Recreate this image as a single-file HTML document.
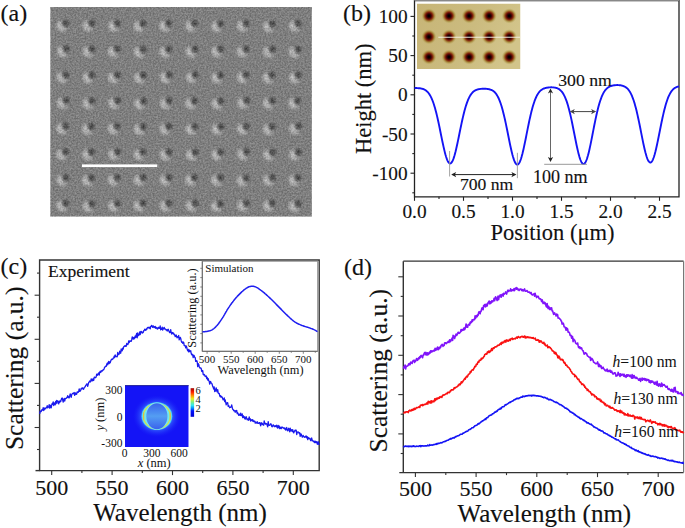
<!DOCTYPE html>
<html><head><meta charset="utf-8"><title>Figure</title>
<style>
html,body{margin:0;padding:0;background:#fff;}
body{width:685px;height:528px;overflow:hidden;}
svg{display:block;}
text{font-family:"Liberation Serif",serif;fill:#111;}
.s{stroke:#111;stroke-width:0.14px;}
</style></head><body>
<svg width="685" height="528" viewBox="0 0 685 528">
<defs>
<filter id="noise" x="0" y="0" width="1" height="1" filterUnits="objectBoundingBox" color-interpolation-filters="sRGB">
  <feTurbulence type="fractalNoise" baseFrequency="0.6" numOctaves="2" seed="5" result="t"/>
  <feColorMatrix type="matrix" in="t" values="1 0 0 0 0  1 0 0 0 0  1 0 0 0 0  0 0 0 0 1" result="g"/>
  <feComponentTransfer in="g" result="tt"><feFuncR type="linear" slope="1.8" intercept="-0.4"/><feFuncG type="linear" slope="1.8" intercept="-0.4"/><feFuncB type="linear" slope="1.8" intercept="-0.4"/></feComponentTransfer>
  <feGaussianBlur stdDeviation="0.6" in="tt"/>
</filter>
<filter id="blur06" x="-0.1" y="-0.1" width="1.2" height="1.2"><feGaussianBlur stdDeviation="0.6"/></filter>
<radialGradient id="hdark">
  <stop offset="0" stop-color="#2a2a2a" stop-opacity="0.8"/>
  <stop offset="0.45" stop-color="#333333" stop-opacity="0.58"/>
  <stop offset="1" stop-color="#404040" stop-opacity="0"/>
</radialGradient>
<radialGradient id="hlight">
  <stop offset="0" stop-color="#ffffff" stop-opacity="0.58"/>
  <stop offset="0.5" stop-color="#ffffff" stop-opacity="0.32"/>
  <stop offset="1" stop-color="#ffffff" stop-opacity="0"/>
</radialGradient>
<linearGradient id="afmbg" x1="0" y1="0" x2="1" y2="0.3">
  <stop offset="0" stop-color="#c7b577"/>
  <stop offset="0.6" stop-color="#cbbb7f"/>
  <stop offset="1" stop-color="#d2c48a"/>
</linearGradient>
<radialGradient id="afm">
  <stop offset="0" stop-color="#000000"/>
  <stop offset="0.12" stop-color="#080000"/>
  <stop offset="0.3" stop-color="#400404"/>
  <stop offset="0.45" stop-color="#7a1a0a"/>
  <stop offset="0.58" stop-color="#94541e"/>
  <stop offset="0.72" stop-color="#a8883e" stop-opacity="0.85"/>
  <stop offset="0.88" stop-color="#bcaa62" stop-opacity="0.45"/>
  <stop offset="1" stop-color="#c8ba7c" stop-opacity="0"/>
</radialGradient>
<linearGradient id="jet" x1="0" y1="1" x2="0" y2="0">
  <stop offset="0" stop-color="#0000d0"/>
  <stop offset="0.2" stop-color="#0010ff"/>
  <stop offset="0.3" stop-color="#0090ff"/>
  <stop offset="0.4" stop-color="#30e8f0"/>
  <stop offset="0.52" stop-color="#80f080"/>
  <stop offset="0.63" stop-color="#e8f020"/>
  <stop offset="0.74" stop-color="#ff9000"/>
  <stop offset="0.86" stop-color="#ff2000"/>
  <stop offset="1" stop-color="#a00000"/>
</linearGradient>
<radialGradient id="halo">
  <stop offset="0.55" stop-color="#4a78ff" stop-opacity="1"/>
  <stop offset="0.8" stop-color="#3a50ff" stop-opacity="0.5"/>
  <stop offset="1" stop-color="#2a2aff" stop-opacity="0"/>
</radialGradient>
<radialGradient id="halo2">
  <stop offset="0.55" stop-color="#4080ff" stop-opacity="1"/>
  <stop offset="0.72" stop-color="#2c50fc" stop-opacity="0.7"/>
  <stop offset="1" stop-color="#1a22f8" stop-opacity="0"/>
</radialGradient>
<linearGradient id="inner2" x1="0" y1="0" x2="0" y2="1">
  <stop offset="0" stop-color="#3a62ec"/>
  <stop offset="0.25" stop-color="#4680f0"/>
  <stop offset="0.5" stop-color="#549ef2"/>
  <stop offset="0.75" stop-color="#4680f0"/>
  <stop offset="1" stop-color="#3a62ec"/>
</linearGradient>
<radialGradient id="inner" cx="0.5" cy="0.5" r="0.5">
  <stop offset="0" stop-color="#3c6cf0"/>
  <stop offset="0.85" stop-color="#4a8af5"/>
  <stop offset="1" stop-color="#80e8ff"/>
</radialGradient>

<clipPath id="semclip"><rect x="50.2" y="7.0" width="261.7" height="209.7"/></clipPath>
<clipPath id="cmclip"><rect x="125" y="385.3" width="63.7" height="61.7"/></clipPath>
<clipPath id="afmclip"><rect x="417" y="3.5" width="103.5" height="65.5"/></clipPath>
</defs>
<text x="0.5" y="20.5" class="s" font-size="24">(a)</text>
<g clip-path="url(#semclip)">
<rect x="50.2" y="7.0" width="261.7" height="209.7" fill="#7f7f7f"/>
<g filter="url(#blur06)">
<ellipse cx="59.9" cy="25.7" rx="5" ry="6.8" fill="url(#hlight)"/>
<ellipse cx="63.4" cy="29.6" rx="5" ry="4" fill="url(#hlight)" opacity="0.6"/>
<circle cx="65.9" cy="23.1" r="5" fill="url(#hdark)"/>
<ellipse cx="85.9" cy="25.7" rx="5" ry="6.8" fill="url(#hlight)"/>
<ellipse cx="89.4" cy="29.6" rx="5" ry="4" fill="url(#hlight)" opacity="0.6"/>
<circle cx="91.9" cy="23.1" r="5" fill="url(#hdark)"/>
<ellipse cx="111.6" cy="25.9" rx="5" ry="6.8" fill="url(#hlight)"/>
<ellipse cx="115.1" cy="29.8" rx="5" ry="4" fill="url(#hlight)" opacity="0.6"/>
<circle cx="117.6" cy="23.3" r="5" fill="url(#hdark)"/>
<ellipse cx="137.0" cy="26.0" rx="5" ry="6.8" fill="url(#hlight)"/>
<ellipse cx="140.5" cy="29.9" rx="5" ry="4" fill="url(#hlight)" opacity="0.6"/>
<circle cx="143.0" cy="23.4" r="5" fill="url(#hdark)"/>
<ellipse cx="162.8" cy="25.9" rx="5" ry="6.8" fill="url(#hlight)"/>
<ellipse cx="166.3" cy="29.8" rx="5" ry="4" fill="url(#hlight)" opacity="0.6"/>
<circle cx="168.8" cy="23.3" r="5" fill="url(#hdark)"/>
<ellipse cx="188.7" cy="25.7" rx="5" ry="6.8" fill="url(#hlight)"/>
<ellipse cx="192.2" cy="29.6" rx="5" ry="4" fill="url(#hlight)" opacity="0.6"/>
<circle cx="194.7" cy="23.1" r="5" fill="url(#hdark)"/>
<ellipse cx="214.7" cy="26.3" rx="5" ry="6.8" fill="url(#hlight)"/>
<ellipse cx="218.2" cy="30.2" rx="5" ry="4" fill="url(#hlight)" opacity="0.6"/>
<circle cx="220.7" cy="23.7" r="5" fill="url(#hdark)"/>
<ellipse cx="240.3" cy="25.8" rx="5" ry="6.8" fill="url(#hlight)"/>
<ellipse cx="243.8" cy="29.7" rx="5" ry="4" fill="url(#hlight)" opacity="0.6"/>
<circle cx="246.3" cy="23.2" r="5" fill="url(#hdark)"/>
<ellipse cx="266.5" cy="26.4" rx="5" ry="6.8" fill="url(#hlight)"/>
<ellipse cx="270.0" cy="30.3" rx="5" ry="4" fill="url(#hlight)" opacity="0.6"/>
<circle cx="272.5" cy="23.8" r="5" fill="url(#hdark)"/>
<ellipse cx="292.3" cy="25.9" rx="5" ry="6.8" fill="url(#hlight)"/>
<ellipse cx="295.8" cy="29.8" rx="5" ry="4" fill="url(#hlight)" opacity="0.6"/>
<circle cx="298.3" cy="23.3" r="5" fill="url(#hdark)"/>
<ellipse cx="60.4" cy="51.3" rx="5" ry="6.8" fill="url(#hlight)"/>
<ellipse cx="63.9" cy="55.2" rx="5" ry="4" fill="url(#hlight)" opacity="0.6"/>
<circle cx="66.4" cy="48.7" r="5" fill="url(#hdark)"/>
<ellipse cx="86.1" cy="51.5" rx="5" ry="6.8" fill="url(#hlight)"/>
<ellipse cx="89.6" cy="55.4" rx="5" ry="4" fill="url(#hlight)" opacity="0.6"/>
<circle cx="92.1" cy="48.9" r="5" fill="url(#hdark)"/>
<ellipse cx="111.3" cy="51.4" rx="5" ry="6.8" fill="url(#hlight)"/>
<ellipse cx="114.8" cy="55.3" rx="5" ry="4" fill="url(#hlight)" opacity="0.6"/>
<circle cx="117.3" cy="48.8" r="5" fill="url(#hdark)"/>
<ellipse cx="137.2" cy="52.0" rx="5" ry="6.8" fill="url(#hlight)"/>
<ellipse cx="140.7" cy="55.9" rx="5" ry="4" fill="url(#hlight)" opacity="0.6"/>
<circle cx="143.2" cy="49.4" r="5" fill="url(#hdark)"/>
<ellipse cx="162.9" cy="51.8" rx="5" ry="6.8" fill="url(#hlight)"/>
<ellipse cx="166.4" cy="55.7" rx="5" ry="4" fill="url(#hlight)" opacity="0.6"/>
<circle cx="168.9" cy="49.2" r="5" fill="url(#hdark)"/>
<ellipse cx="189.1" cy="51.6" rx="5" ry="6.8" fill="url(#hlight)"/>
<ellipse cx="192.6" cy="55.5" rx="5" ry="4" fill="url(#hlight)" opacity="0.6"/>
<circle cx="195.1" cy="49.0" r="5" fill="url(#hdark)"/>
<ellipse cx="214.8" cy="51.4" rx="5" ry="6.8" fill="url(#hlight)"/>
<ellipse cx="218.3" cy="55.3" rx="5" ry="4" fill="url(#hlight)" opacity="0.6"/>
<circle cx="220.8" cy="48.8" r="5" fill="url(#hdark)"/>
<ellipse cx="240.2" cy="51.5" rx="5" ry="6.8" fill="url(#hlight)"/>
<ellipse cx="243.7" cy="55.4" rx="5" ry="4" fill="url(#hlight)" opacity="0.6"/>
<circle cx="246.2" cy="48.9" r="5" fill="url(#hdark)"/>
<ellipse cx="266.5" cy="51.6" rx="5" ry="6.8" fill="url(#hlight)"/>
<ellipse cx="270.0" cy="55.5" rx="5" ry="4" fill="url(#hlight)" opacity="0.6"/>
<circle cx="272.5" cy="49.0" r="5" fill="url(#hdark)"/>
<ellipse cx="292.1" cy="51.8" rx="5" ry="6.8" fill="url(#hlight)"/>
<ellipse cx="295.6" cy="55.7" rx="5" ry="4" fill="url(#hlight)" opacity="0.6"/>
<circle cx="298.1" cy="49.2" r="5" fill="url(#hdark)"/>
<ellipse cx="60.0" cy="77.2" rx="5" ry="6.8" fill="url(#hlight)"/>
<ellipse cx="63.5" cy="81.1" rx="5" ry="4" fill="url(#hlight)" opacity="0.6"/>
<circle cx="66.0" cy="74.6" r="5" fill="url(#hdark)"/>
<ellipse cx="86.0" cy="77.6" rx="5" ry="6.8" fill="url(#hlight)"/>
<ellipse cx="89.5" cy="81.5" rx="5" ry="4" fill="url(#hlight)" opacity="0.6"/>
<circle cx="92.0" cy="75.0" r="5" fill="url(#hdark)"/>
<ellipse cx="111.4" cy="77.5" rx="5" ry="6.8" fill="url(#hlight)"/>
<ellipse cx="114.9" cy="81.4" rx="5" ry="4" fill="url(#hlight)" opacity="0.6"/>
<circle cx="117.4" cy="74.9" r="5" fill="url(#hdark)"/>
<ellipse cx="137.4" cy="77.7" rx="5" ry="6.8" fill="url(#hlight)"/>
<ellipse cx="140.9" cy="81.6" rx="5" ry="4" fill="url(#hlight)" opacity="0.6"/>
<circle cx="143.4" cy="75.1" r="5" fill="url(#hdark)"/>
<ellipse cx="163.4" cy="77.2" rx="5" ry="6.8" fill="url(#hlight)"/>
<ellipse cx="166.9" cy="81.1" rx="5" ry="4" fill="url(#hlight)" opacity="0.6"/>
<circle cx="169.4" cy="74.6" r="5" fill="url(#hdark)"/>
<ellipse cx="189.4" cy="77.1" rx="5" ry="6.8" fill="url(#hlight)"/>
<ellipse cx="192.9" cy="81.0" rx="5" ry="4" fill="url(#hlight)" opacity="0.6"/>
<circle cx="195.4" cy="74.5" r="5" fill="url(#hdark)"/>
<ellipse cx="214.7" cy="77.6" rx="5" ry="6.8" fill="url(#hlight)"/>
<ellipse cx="218.2" cy="81.5" rx="5" ry="4" fill="url(#hlight)" opacity="0.6"/>
<circle cx="220.7" cy="75.0" r="5" fill="url(#hdark)"/>
<ellipse cx="240.3" cy="77.4" rx="5" ry="6.8" fill="url(#hlight)"/>
<ellipse cx="243.8" cy="81.3" rx="5" ry="4" fill="url(#hlight)" opacity="0.6"/>
<circle cx="246.3" cy="74.8" r="5" fill="url(#hdark)"/>
<ellipse cx="266.0" cy="77.5" rx="5" ry="6.8" fill="url(#hlight)"/>
<ellipse cx="269.5" cy="81.4" rx="5" ry="4" fill="url(#hlight)" opacity="0.6"/>
<circle cx="272.0" cy="74.9" r="5" fill="url(#hdark)"/>
<ellipse cx="292.4" cy="77.5" rx="5" ry="6.8" fill="url(#hlight)"/>
<ellipse cx="295.9" cy="81.4" rx="5" ry="4" fill="url(#hlight)" opacity="0.6"/>
<circle cx="298.4" cy="74.9" r="5" fill="url(#hdark)"/>
<ellipse cx="60.3" cy="103.0" rx="5" ry="6.8" fill="url(#hlight)"/>
<ellipse cx="63.8" cy="106.9" rx="5" ry="4" fill="url(#hlight)" opacity="0.6"/>
<circle cx="66.3" cy="100.4" r="5" fill="url(#hdark)"/>
<ellipse cx="86.0" cy="103.2" rx="5" ry="6.8" fill="url(#hlight)"/>
<ellipse cx="89.5" cy="107.1" rx="5" ry="4" fill="url(#hlight)" opacity="0.6"/>
<circle cx="92.0" cy="100.6" r="5" fill="url(#hdark)"/>
<ellipse cx="111.7" cy="103.1" rx="5" ry="6.8" fill="url(#hlight)"/>
<ellipse cx="115.2" cy="107.0" rx="5" ry="4" fill="url(#hlight)" opacity="0.6"/>
<circle cx="117.7" cy="100.5" r="5" fill="url(#hdark)"/>
<ellipse cx="137.7" cy="103.5" rx="5" ry="6.8" fill="url(#hlight)"/>
<ellipse cx="141.2" cy="107.4" rx="5" ry="4" fill="url(#hlight)" opacity="0.6"/>
<circle cx="143.7" cy="100.9" r="5" fill="url(#hdark)"/>
<ellipse cx="163.2" cy="103.2" rx="5" ry="6.8" fill="url(#hlight)"/>
<ellipse cx="166.7" cy="107.1" rx="5" ry="4" fill="url(#hlight)" opacity="0.6"/>
<circle cx="169.2" cy="100.6" r="5" fill="url(#hdark)"/>
<ellipse cx="188.6" cy="103.3" rx="5" ry="6.8" fill="url(#hlight)"/>
<ellipse cx="192.1" cy="107.2" rx="5" ry="4" fill="url(#hlight)" opacity="0.6"/>
<circle cx="194.6" cy="100.7" r="5" fill="url(#hdark)"/>
<ellipse cx="214.9" cy="103.5" rx="5" ry="6.8" fill="url(#hlight)"/>
<ellipse cx="218.4" cy="107.4" rx="5" ry="4" fill="url(#hlight)" opacity="0.6"/>
<circle cx="220.9" cy="100.9" r="5" fill="url(#hdark)"/>
<ellipse cx="240.9" cy="102.9" rx="5" ry="6.8" fill="url(#hlight)"/>
<ellipse cx="244.4" cy="106.8" rx="5" ry="4" fill="url(#hlight)" opacity="0.6"/>
<circle cx="246.9" cy="100.3" r="5" fill="url(#hdark)"/>
<ellipse cx="266.3" cy="103.2" rx="5" ry="6.8" fill="url(#hlight)"/>
<ellipse cx="269.8" cy="107.1" rx="5" ry="4" fill="url(#hlight)" opacity="0.6"/>
<circle cx="272.3" cy="100.6" r="5" fill="url(#hdark)"/>
<ellipse cx="291.8" cy="103.1" rx="5" ry="6.8" fill="url(#hlight)"/>
<ellipse cx="295.3" cy="107.0" rx="5" ry="4" fill="url(#hlight)" opacity="0.6"/>
<circle cx="297.8" cy="100.5" r="5" fill="url(#hdark)"/>
<ellipse cx="59.7" cy="128.5" rx="5" ry="6.8" fill="url(#hlight)"/>
<ellipse cx="63.2" cy="132.4" rx="5" ry="4" fill="url(#hlight)" opacity="0.6"/>
<circle cx="65.7" cy="125.9" r="5" fill="url(#hdark)"/>
<ellipse cx="85.4" cy="129.0" rx="5" ry="6.8" fill="url(#hlight)"/>
<ellipse cx="88.9" cy="132.9" rx="5" ry="4" fill="url(#hlight)" opacity="0.6"/>
<circle cx="91.4" cy="126.4" r="5" fill="url(#hdark)"/>
<ellipse cx="111.3" cy="128.6" rx="5" ry="6.8" fill="url(#hlight)"/>
<ellipse cx="114.8" cy="132.5" rx="5" ry="4" fill="url(#hlight)" opacity="0.6"/>
<circle cx="117.3" cy="126.0" r="5" fill="url(#hdark)"/>
<ellipse cx="137.3" cy="129.1" rx="5" ry="6.8" fill="url(#hlight)"/>
<ellipse cx="140.8" cy="133.0" rx="5" ry="4" fill="url(#hlight)" opacity="0.6"/>
<circle cx="143.3" cy="126.5" r="5" fill="url(#hdark)"/>
<ellipse cx="162.9" cy="128.8" rx="5" ry="6.8" fill="url(#hlight)"/>
<ellipse cx="166.4" cy="132.7" rx="5" ry="4" fill="url(#hlight)" opacity="0.6"/>
<circle cx="168.9" cy="126.2" r="5" fill="url(#hdark)"/>
<ellipse cx="189.0" cy="129.1" rx="5" ry="6.8" fill="url(#hlight)"/>
<ellipse cx="192.5" cy="133.0" rx="5" ry="4" fill="url(#hlight)" opacity="0.6"/>
<circle cx="195.0" cy="126.5" r="5" fill="url(#hdark)"/>
<ellipse cx="215.1" cy="129.1" rx="5" ry="6.8" fill="url(#hlight)"/>
<ellipse cx="218.6" cy="133.0" rx="5" ry="4" fill="url(#hlight)" opacity="0.6"/>
<circle cx="221.1" cy="126.5" r="5" fill="url(#hdark)"/>
<ellipse cx="240.4" cy="128.7" rx="5" ry="6.8" fill="url(#hlight)"/>
<ellipse cx="243.9" cy="132.6" rx="5" ry="4" fill="url(#hlight)" opacity="0.6"/>
<circle cx="246.4" cy="126.1" r="5" fill="url(#hdark)"/>
<ellipse cx="266.3" cy="129.1" rx="5" ry="6.8" fill="url(#hlight)"/>
<ellipse cx="269.8" cy="133.0" rx="5" ry="4" fill="url(#hlight)" opacity="0.6"/>
<circle cx="272.3" cy="126.5" r="5" fill="url(#hdark)"/>
<ellipse cx="292.6" cy="128.5" rx="5" ry="6.8" fill="url(#hlight)"/>
<ellipse cx="296.1" cy="132.4" rx="5" ry="4" fill="url(#hlight)" opacity="0.6"/>
<circle cx="298.6" cy="125.9" r="5" fill="url(#hdark)"/>
<ellipse cx="59.7" cy="154.3" rx="5" ry="6.8" fill="url(#hlight)"/>
<ellipse cx="63.2" cy="158.2" rx="5" ry="4" fill="url(#hlight)" opacity="0.6"/>
<circle cx="65.7" cy="151.7" r="5" fill="url(#hdark)"/>
<ellipse cx="85.6" cy="154.5" rx="5" ry="6.8" fill="url(#hlight)"/>
<ellipse cx="89.1" cy="158.4" rx="5" ry="4" fill="url(#hlight)" opacity="0.6"/>
<circle cx="91.6" cy="151.9" r="5" fill="url(#hdark)"/>
<ellipse cx="111.7" cy="154.3" rx="5" ry="6.8" fill="url(#hlight)"/>
<ellipse cx="115.2" cy="158.2" rx="5" ry="4" fill="url(#hlight)" opacity="0.6"/>
<circle cx="117.7" cy="151.7" r="5" fill="url(#hdark)"/>
<ellipse cx="137.0" cy="154.4" rx="5" ry="6.8" fill="url(#hlight)"/>
<ellipse cx="140.5" cy="158.3" rx="5" ry="4" fill="url(#hlight)" opacity="0.6"/>
<circle cx="143.0" cy="151.8" r="5" fill="url(#hdark)"/>
<ellipse cx="163.1" cy="154.6" rx="5" ry="6.8" fill="url(#hlight)"/>
<ellipse cx="166.6" cy="158.5" rx="5" ry="4" fill="url(#hlight)" opacity="0.6"/>
<circle cx="169.1" cy="152.0" r="5" fill="url(#hdark)"/>
<ellipse cx="189.4" cy="154.7" rx="5" ry="6.8" fill="url(#hlight)"/>
<ellipse cx="192.9" cy="158.6" rx="5" ry="4" fill="url(#hlight)" opacity="0.6"/>
<circle cx="195.4" cy="152.1" r="5" fill="url(#hdark)"/>
<ellipse cx="214.8" cy="154.6" rx="5" ry="6.8" fill="url(#hlight)"/>
<ellipse cx="218.3" cy="158.5" rx="5" ry="4" fill="url(#hlight)" opacity="0.6"/>
<circle cx="220.8" cy="152.0" r="5" fill="url(#hdark)"/>
<ellipse cx="240.7" cy="154.1" rx="5" ry="6.8" fill="url(#hlight)"/>
<ellipse cx="244.2" cy="158.0" rx="5" ry="4" fill="url(#hlight)" opacity="0.6"/>
<circle cx="246.7" cy="151.5" r="5" fill="url(#hdark)"/>
<ellipse cx="266.7" cy="154.7" rx="5" ry="6.8" fill="url(#hlight)"/>
<ellipse cx="270.2" cy="158.6" rx="5" ry="4" fill="url(#hlight)" opacity="0.6"/>
<circle cx="272.7" cy="152.1" r="5" fill="url(#hdark)"/>
<ellipse cx="292.5" cy="154.7" rx="5" ry="6.8" fill="url(#hlight)"/>
<ellipse cx="296.0" cy="158.6" rx="5" ry="4" fill="url(#hlight)" opacity="0.6"/>
<circle cx="298.5" cy="152.1" r="5" fill="url(#hdark)"/>
<ellipse cx="59.9" cy="180.1" rx="5" ry="6.8" fill="url(#hlight)"/>
<ellipse cx="63.4" cy="184.0" rx="5" ry="4" fill="url(#hlight)" opacity="0.6"/>
<circle cx="65.9" cy="177.5" r="5" fill="url(#hdark)"/>
<ellipse cx="85.5" cy="180.3" rx="5" ry="6.8" fill="url(#hlight)"/>
<ellipse cx="89.0" cy="184.2" rx="5" ry="4" fill="url(#hlight)" opacity="0.6"/>
<circle cx="91.5" cy="177.7" r="5" fill="url(#hdark)"/>
<ellipse cx="111.2" cy="179.9" rx="5" ry="6.8" fill="url(#hlight)"/>
<ellipse cx="114.7" cy="183.8" rx="5" ry="4" fill="url(#hlight)" opacity="0.6"/>
<circle cx="117.2" cy="177.3" r="5" fill="url(#hdark)"/>
<ellipse cx="137.2" cy="179.9" rx="5" ry="6.8" fill="url(#hlight)"/>
<ellipse cx="140.7" cy="183.8" rx="5" ry="4" fill="url(#hlight)" opacity="0.6"/>
<circle cx="143.2" cy="177.3" r="5" fill="url(#hdark)"/>
<ellipse cx="163.1" cy="179.8" rx="5" ry="6.8" fill="url(#hlight)"/>
<ellipse cx="166.6" cy="183.7" rx="5" ry="4" fill="url(#hlight)" opacity="0.6"/>
<circle cx="169.1" cy="177.2" r="5" fill="url(#hdark)"/>
<ellipse cx="188.6" cy="179.9" rx="5" ry="6.8" fill="url(#hlight)"/>
<ellipse cx="192.1" cy="183.8" rx="5" ry="4" fill="url(#hlight)" opacity="0.6"/>
<circle cx="194.6" cy="177.3" r="5" fill="url(#hdark)"/>
<ellipse cx="214.5" cy="180.1" rx="5" ry="6.8" fill="url(#hlight)"/>
<ellipse cx="218.0" cy="184.0" rx="5" ry="4" fill="url(#hlight)" opacity="0.6"/>
<circle cx="220.5" cy="177.5" r="5" fill="url(#hdark)"/>
<ellipse cx="240.2" cy="180.5" rx="5" ry="6.8" fill="url(#hlight)"/>
<ellipse cx="243.7" cy="184.4" rx="5" ry="4" fill="url(#hlight)" opacity="0.6"/>
<circle cx="246.2" cy="177.9" r="5" fill="url(#hdark)"/>
<ellipse cx="266.5" cy="179.9" rx="5" ry="6.8" fill="url(#hlight)"/>
<ellipse cx="270.0" cy="183.8" rx="5" ry="4" fill="url(#hlight)" opacity="0.6"/>
<circle cx="272.5" cy="177.3" r="5" fill="url(#hdark)"/>
<ellipse cx="292.0" cy="180.1" rx="5" ry="6.8" fill="url(#hlight)"/>
<ellipse cx="295.5" cy="184.0" rx="5" ry="4" fill="url(#hlight)" opacity="0.6"/>
<circle cx="298.0" cy="177.5" r="5" fill="url(#hdark)"/>
<ellipse cx="59.9" cy="205.6" rx="5" ry="6.8" fill="url(#hlight)"/>
<ellipse cx="63.4" cy="209.5" rx="5" ry="4" fill="url(#hlight)" opacity="0.6"/>
<circle cx="65.9" cy="203.0" r="5" fill="url(#hdark)"/>
<ellipse cx="86.1" cy="206.3" rx="5" ry="6.8" fill="url(#hlight)"/>
<ellipse cx="89.6" cy="210.2" rx="5" ry="4" fill="url(#hlight)" opacity="0.6"/>
<circle cx="92.1" cy="203.7" r="5" fill="url(#hdark)"/>
<ellipse cx="111.6" cy="205.9" rx="5" ry="6.8" fill="url(#hlight)"/>
<ellipse cx="115.1" cy="209.8" rx="5" ry="4" fill="url(#hlight)" opacity="0.6"/>
<circle cx="117.6" cy="203.3" r="5" fill="url(#hdark)"/>
<ellipse cx="137.1" cy="205.6" rx="5" ry="6.8" fill="url(#hlight)"/>
<ellipse cx="140.6" cy="209.5" rx="5" ry="4" fill="url(#hlight)" opacity="0.6"/>
<circle cx="143.1" cy="203.0" r="5" fill="url(#hdark)"/>
<ellipse cx="163.1" cy="205.7" rx="5" ry="6.8" fill="url(#hlight)"/>
<ellipse cx="166.6" cy="209.6" rx="5" ry="4" fill="url(#hlight)" opacity="0.6"/>
<circle cx="169.1" cy="203.1" r="5" fill="url(#hdark)"/>
<ellipse cx="189.3" cy="205.6" rx="5" ry="6.8" fill="url(#hlight)"/>
<ellipse cx="192.8" cy="209.5" rx="5" ry="4" fill="url(#hlight)" opacity="0.6"/>
<circle cx="195.3" cy="203.0" r="5" fill="url(#hdark)"/>
<ellipse cx="214.4" cy="206.3" rx="5" ry="6.8" fill="url(#hlight)"/>
<ellipse cx="217.9" cy="210.2" rx="5" ry="4" fill="url(#hlight)" opacity="0.6"/>
<circle cx="220.4" cy="203.7" r="5" fill="url(#hdark)"/>
<ellipse cx="240.6" cy="205.6" rx="5" ry="6.8" fill="url(#hlight)"/>
<ellipse cx="244.1" cy="209.5" rx="5" ry="4" fill="url(#hlight)" opacity="0.6"/>
<circle cx="246.6" cy="203.0" r="5" fill="url(#hdark)"/>
<ellipse cx="266.4" cy="205.5" rx="5" ry="6.8" fill="url(#hlight)"/>
<ellipse cx="269.9" cy="209.4" rx="5" ry="4" fill="url(#hlight)" opacity="0.6"/>
<circle cx="272.4" cy="202.9" r="5" fill="url(#hdark)"/>
<ellipse cx="292.2" cy="206.3" rx="5" ry="6.8" fill="url(#hlight)"/>
<ellipse cx="295.7" cy="210.2" rx="5" ry="4" fill="url(#hlight)" opacity="0.6"/>
<circle cx="298.2" cy="203.7" r="5" fill="url(#hdark)"/>
</g>
<rect x="50.2" y="7.0" width="261.7" height="209.7" filter="url(#noise)" opacity="0.16"/>
</g>
<rect x="82" y="164.4" width="75.2" height="2.7" fill="#ffffff"/>
<text x="343" y="20.8" class="s" font-size="24">(b)</text>
<g clip-path="url(#afmclip)">
<rect x="417" y="3.5" width="103.5" height="65.5" fill="url(#afmbg)"/>
<circle cx="428.9" cy="15.9" r="7.8" fill="url(#afm)"/>
<circle cx="449.0" cy="15.9" r="7.8" fill="url(#afm)"/>
<circle cx="469.1" cy="15.9" r="7.8" fill="url(#afm)"/>
<circle cx="489.2" cy="15.9" r="7.8" fill="url(#afm)"/>
<circle cx="509.3" cy="15.9" r="7.8" fill="url(#afm)"/>
<circle cx="428.9" cy="36.8" r="7.8" fill="url(#afm)"/>
<circle cx="449.0" cy="36.8" r="7.8" fill="url(#afm)"/>
<circle cx="469.1" cy="36.8" r="7.8" fill="url(#afm)"/>
<circle cx="489.2" cy="36.8" r="7.8" fill="url(#afm)"/>
<circle cx="509.3" cy="36.8" r="7.8" fill="url(#afm)"/>
<circle cx="428.9" cy="57.0" r="7.8" fill="url(#afm)"/>
<circle cx="449.0" cy="57.0" r="7.8" fill="url(#afm)"/>
<circle cx="469.1" cy="57.0" r="7.8" fill="url(#afm)"/>
<circle cx="489.2" cy="57.0" r="7.8" fill="url(#afm)"/>
<circle cx="509.3" cy="57.0" r="7.8" fill="url(#afm)"/>
</g>
<rect x="438.3" y="36.7" width="82" height="1.1" fill="#f4f0e0" opacity="0.9"/>
<path d="M414.5,0.5 H679 V196.8 H414.5 Z" fill="none" stroke="#222" stroke-width="1.3"/>
<line x1="414.5" y1="0.5" x2="679" y2="0.5" stroke="#888" stroke-width="1.2"/>
<line x1="412.3" y1="192.80" x2="414.5" y2="192.80" stroke="#222" stroke-width="1.1"/>
<line x1="410.5" y1="173.20" x2="414.5" y2="173.20" stroke="#222" stroke-width="1.1"/>
<line x1="412.3" y1="153.60" x2="414.5" y2="153.60" stroke="#222" stroke-width="1.1"/>
<line x1="410.5" y1="134.00" x2="414.5" y2="134.00" stroke="#222" stroke-width="1.1"/>
<line x1="412.3" y1="114.40" x2="414.5" y2="114.40" stroke="#222" stroke-width="1.1"/>
<line x1="410.5" y1="94.80" x2="414.5" y2="94.80" stroke="#222" stroke-width="1.1"/>
<line x1="412.3" y1="75.20" x2="414.5" y2="75.20" stroke="#222" stroke-width="1.1"/>
<line x1="410.5" y1="55.60" x2="414.5" y2="55.60" stroke="#222" stroke-width="1.1"/>
<line x1="412.3" y1="36.00" x2="414.5" y2="36.00" stroke="#222" stroke-width="1.1"/>
<line x1="410.5" y1="16.40" x2="414.5" y2="16.40" stroke="#222" stroke-width="1.1"/>
<text x="407.6" y="22.9" class="s" font-size="19.3" text-anchor="end">100</text>
<text x="407.6" y="62.1" class="s" font-size="19.3" text-anchor="end">50</text>
<text x="407.6" y="101.3" class="s" font-size="19.3" text-anchor="end">0</text>
<text x="407.6" y="140.5" class="s" font-size="19.3" text-anchor="end">-50</text>
<text x="407.6" y="179.7" class="s" font-size="19.3" text-anchor="end">-100</text>
<line x1="414.50" y1="196.8" x2="414.50" y2="200.8" stroke="#222" stroke-width="1.1"/>
<line x1="439.00" y1="196.8" x2="439.00" y2="199.0" stroke="#222" stroke-width="1.1"/>
<line x1="463.50" y1="196.8" x2="463.50" y2="200.8" stroke="#222" stroke-width="1.1"/>
<line x1="488.00" y1="196.8" x2="488.00" y2="199.0" stroke="#222" stroke-width="1.1"/>
<line x1="512.50" y1="196.8" x2="512.50" y2="200.8" stroke="#222" stroke-width="1.1"/>
<line x1="537.00" y1="196.8" x2="537.00" y2="199.0" stroke="#222" stroke-width="1.1"/>
<line x1="561.50" y1="196.8" x2="561.50" y2="200.8" stroke="#222" stroke-width="1.1"/>
<line x1="586.00" y1="196.8" x2="586.00" y2="199.0" stroke="#222" stroke-width="1.1"/>
<line x1="610.50" y1="196.8" x2="610.50" y2="200.8" stroke="#222" stroke-width="1.1"/>
<line x1="635.00" y1="196.8" x2="635.00" y2="199.0" stroke="#222" stroke-width="1.1"/>
<line x1="659.50" y1="196.8" x2="659.50" y2="200.8" stroke="#222" stroke-width="1.1"/>
<text x="414.5" y="217.8" class="s" font-size="19.3" text-anchor="middle">0.0</text>
<text x="463.5" y="217.8" class="s" font-size="19.3" text-anchor="middle">0.5</text>
<text x="512.5" y="217.8" class="s" font-size="19.3" text-anchor="middle">1.0</text>
<text x="561.5" y="217.8" class="s" font-size="19.3" text-anchor="middle">1.5</text>
<text x="610.5" y="217.8" class="s" font-size="19.3" text-anchor="middle">2.0</text>
<text x="659.5" y="217.8" class="s" font-size="19.3" text-anchor="middle">2.5</text>
<text x="552.5" y="240" class="s" font-size="22.5" text-anchor="middle">Position (μm)</text>
<text transform="translate(371,98.8) rotate(-90)" class="s" font-size="22.5" text-anchor="middle">Height (nm)</text>
<polyline points="414.5,87.9 415.0,88.0 415.5,88.0 416.0,88.0 416.5,88.0 417.0,88.1 417.5,88.1 418.0,88.1 418.5,88.2 419.0,88.2 419.5,88.3 420.0,88.3 420.5,88.4 421.0,88.5 421.5,88.6 422.0,88.7 422.5,88.9 423.0,89.0 423.5,89.2 424.0,89.4 424.5,89.7 425.0,89.9 425.5,90.2 426.0,90.6 426.5,91.0 427.0,91.4 427.5,91.9 428.0,92.4 428.5,93.0 429.0,93.7 429.5,94.4 430.0,95.2 430.5,96.1 431.0,97.1 431.5,98.1 432.0,99.3 432.5,100.5 433.0,101.8 433.5,103.2 434.0,104.7 434.5,106.4 435.0,108.1 435.5,109.9 436.0,111.8 436.5,113.8 437.0,115.9 437.5,118.0 438.0,120.2 438.5,122.5 439.0,124.9 439.5,127.3 440.0,129.7 440.5,132.2 441.0,134.7 441.5,137.1 442.0,139.6 442.5,142.0 443.0,144.3 443.5,146.6 444.0,148.8 444.5,150.9 445.0,152.9 445.5,154.8 446.0,156.5 446.5,158.0 447.0,159.4 447.5,160.6 448.0,161.6 448.5,162.4 449.0,163.0 449.5,163.3 450.0,163.5 450.5,163.4 451.0,163.1 451.5,162.6 452.0,161.9 452.5,161.0 453.0,159.9 453.5,158.6 454.0,157.1 454.5,155.5 455.0,153.7 455.5,151.8 456.0,149.7 456.5,147.5 457.0,145.3 457.5,143.0 458.0,140.6 458.5,138.2 459.0,135.7 459.5,133.3 460.0,130.8 460.5,128.4 461.0,126.0 461.5,123.6 462.0,121.3 462.5,119.0 463.0,116.9 463.5,114.8 464.0,112.8 464.5,110.8 465.0,109.0 465.5,107.3 466.0,105.6 466.5,104.1 467.0,102.6 467.5,101.3 468.0,100.0 468.5,98.9 469.0,97.8 469.5,96.8 470.0,95.9 470.5,95.1 471.0,94.4 471.5,93.7 472.0,93.1 472.5,92.5 473.0,92.0 473.5,91.6 474.0,91.2 474.5,90.8 475.0,90.5 475.5,90.3 476.0,90.0 476.5,89.8 477.0,89.6 477.5,89.5 478.0,89.4 478.5,89.2 479.0,89.1 479.5,89.1 480.0,89.0 480.5,88.9 481.0,88.9 481.5,88.9 482.0,88.8 482.5,88.8 483.0,88.8 483.5,88.8 484.0,88.8 484.5,88.8 485.0,88.8 485.5,88.8 486.0,88.8 486.5,88.9 487.0,88.9 487.5,89.0 488.0,89.0 488.5,89.1 489.0,89.2 489.5,89.3 490.0,89.5 490.5,89.6 491.0,89.8 491.5,90.0 492.0,90.2 492.5,90.5 493.0,90.8 493.5,91.2 494.0,91.6 494.5,92.0 495.0,92.5 495.5,93.1 496.0,93.7 496.5,94.4 497.0,95.2 497.5,96.1 498.0,97.0 498.5,98.0 499.0,99.1 499.5,100.3 500.0,101.6 500.5,103.0 501.0,104.5 501.5,106.0 502.0,107.7 502.5,109.5 503.0,111.4 503.5,113.4 504.0,115.4 504.5,117.6 505.0,119.8 505.5,122.1 506.0,124.4 506.5,126.9 507.0,129.3 507.5,131.8 508.0,134.3 508.5,136.8 509.0,139.3 509.5,141.7 510.0,144.2 510.5,146.5 511.0,148.8 511.5,151.0 512.0,153.0 512.5,155.0 513.0,156.8 513.5,158.4 514.0,159.9 514.5,161.2 515.0,162.3 515.5,163.2 516.0,163.8 516.5,164.3 517.0,164.6 517.5,164.6 518.0,164.4 518.5,164.0 519.0,163.3 519.5,162.5 520.0,161.4 520.5,160.1 521.0,158.7 521.5,157.1 522.0,155.3 522.5,153.4 523.0,151.3 523.5,149.2 524.0,146.9 524.5,144.5 525.0,142.1 525.5,139.7 526.0,137.2 526.5,134.6 527.0,132.1 527.5,129.6 528.0,127.1 528.5,124.7 529.0,122.3 529.5,119.9 530.0,117.7 530.5,115.5 531.0,113.4 531.5,111.3 532.0,109.4 532.5,107.6 533.0,105.8 533.5,104.2 534.0,102.7 534.5,101.2 535.0,99.9 535.5,98.6 536.0,97.5 536.5,96.4 537.0,95.4 537.5,94.6 538.0,93.7 538.5,93.0 539.0,92.3 539.5,91.7 540.0,91.2 540.5,90.7 541.0,90.2 541.5,89.9 542.0,89.5 542.5,89.2 543.0,88.9 543.5,88.7 544.0,88.5 544.5,88.3 545.0,88.1 545.5,88.0 546.0,87.9 546.5,87.8 547.0,87.7 547.5,87.6 548.0,87.5 548.5,87.5 549.0,87.4 549.5,87.4 550.0,87.4 550.5,87.4 551.0,87.3 551.5,87.3 552.0,87.4 552.5,87.4 553.0,87.4 553.5,87.4 554.0,87.5 554.5,87.6 555.0,87.6 555.5,87.7 556.0,87.9 556.5,88.0 557.0,88.2 557.5,88.4 558.0,88.6 558.5,88.8 559.0,89.1 559.5,89.5 560.0,89.9 560.5,90.3 561.0,90.8 561.5,91.3 562.0,91.9 562.5,92.6 563.0,93.3 563.5,94.2 564.0,95.1 564.5,96.1 565.0,97.1 565.5,98.3 566.0,99.6 566.5,100.9 567.0,102.4 567.5,103.9 568.0,105.6 568.5,107.4 569.0,109.2 569.5,111.2 570.0,113.2 570.5,115.4 571.0,117.6 571.5,119.9 572.0,122.3 572.5,124.7 573.0,127.2 573.5,129.7 574.0,132.2 574.5,134.8 575.0,137.3 575.5,139.8 576.0,142.3 576.5,144.7 577.0,147.0 577.5,149.3 578.0,151.4 578.5,153.4 579.0,155.3 579.5,157.1 580.0,158.6 580.5,160.0 581.0,161.2 581.5,162.2 582.0,163.0 582.5,163.5 583.0,163.9 583.5,164.0 584.0,163.9 584.5,163.5 585.0,163.0 585.5,162.2 586.0,161.2 586.5,160.0 587.0,158.6 587.5,157.0 588.0,155.3 588.5,153.4 589.0,151.4 589.5,149.2 590.0,146.9 590.5,144.6 591.0,142.1 591.5,139.6 592.0,137.1 592.5,134.5 593.0,131.9 593.5,129.4 594.0,126.8 594.5,124.3 595.0,121.9 595.5,119.4 596.0,117.1 596.5,114.8 597.0,112.6 597.5,110.5 598.0,108.5 598.5,106.6 599.0,104.8 599.5,103.1 600.0,101.5 600.5,100.0 601.0,98.6 601.5,97.2 602.0,96.0 602.5,94.9 603.0,93.9 603.5,92.9 604.0,92.0 604.5,91.3 605.0,90.5 605.5,89.9 606.0,89.3 606.5,88.8 607.0,88.3 607.5,87.9 608.0,87.5 608.5,87.2 609.0,86.9 609.5,86.6 610.0,86.4 610.5,86.2 611.0,86.0 611.5,85.8 612.0,85.7 612.5,85.6 613.0,85.5 613.5,85.4 614.0,85.3 614.5,85.2 615.0,85.2 615.5,85.1 616.0,85.1 616.5,85.1 617.0,85.0 617.5,85.0 618.0,85.1 618.5,85.1 619.0,85.1 619.5,85.2 620.0,85.2 620.5,85.3 621.0,85.4 621.5,85.5 622.0,85.6 622.5,85.8 623.0,85.9 623.5,86.1 624.0,86.3 624.5,86.5 625.0,86.8 625.5,87.1 626.0,87.4 626.5,87.8 627.0,88.2 627.5,88.7 628.0,89.2 628.5,89.8 629.0,90.5 629.5,91.2 630.0,92.0 630.5,92.9 631.0,93.9 631.5,94.9 632.0,96.0 632.5,97.3 633.0,98.6 633.5,100.0 634.0,101.5 634.5,103.1 635.0,104.9 635.5,106.7 636.0,108.6 636.5,110.6 637.0,112.7 637.5,114.9 638.0,117.2 638.5,119.5 639.0,121.9 639.5,124.3 640.0,126.8 640.5,129.3 641.0,131.9 641.5,134.4 642.0,136.9 642.5,139.4 643.0,141.9 643.5,144.2 644.0,146.5 644.5,148.7 645.0,150.8 645.5,152.8 646.0,154.6 646.5,156.3 647.0,157.7 647.5,159.1 648.0,160.2 648.5,161.1 649.0,161.7 649.5,162.2 650.0,162.5 650.5,162.5 651.0,162.3 651.5,161.9 652.0,161.2 652.5,160.4 653.0,159.3 653.5,158.0 654.0,156.6 654.5,155.0 655.0,153.2 655.5,151.3 656.0,149.2 656.5,147.0 657.0,144.8 657.5,142.4 658.0,140.0 658.5,137.5 659.0,135.0 659.5,132.5 660.0,130.0 660.5,127.5 661.0,125.0 661.5,122.5 662.0,120.2 662.5,117.8 663.0,115.6 663.5,113.4 664.0,111.3 664.5,109.3 665.0,107.4 665.5,105.5 666.0,103.8 666.5,102.2 667.0,100.7 667.5,99.3 668.0,97.9 668.5,96.7 669.0,95.6 669.5,94.6 670.0,93.6 670.5,92.7 671.0,91.9 671.5,91.2 672.0,90.6 672.5,90.0 673.0,89.4 673.5,89.0 674.0,88.6 674.5,88.2 675.0,87.8 675.5,87.6 676.0,87.3 676.5,87.1 677.0,86.9 677.5,86.7 678.0,86.6 678.5,86.5 679.0,86.3" fill="none" stroke="#1414f5" stroke-width="1.9" stroke-linejoin="round"/>
<line x1="449.6" y1="151" x2="449.6" y2="176.5" stroke="#999" stroke-width="0.9"/>
<line x1="517.4" y1="152.8" x2="517.4" y2="178.2" stroke="#999" stroke-width="0.9"/>
<line x1="452.2" y1="174.6" x2="515.4" y2="174.6" stroke="#222" stroke-width="1"/><path d="M451.2,174.6 l5,-2.6 l-1.3,2.6 l1.3,2.6 z" fill="#222"/><path d="M516.4,174.6 l-5,-2.6 l1.3,2.6 l-1.3,2.6 z" fill="#222"/>
<text x="460" y="190.4" class="s" font-size="17.6">700 nm</text>
<line x1="570.8" y1="111.6" x2="595.1" y2="111.6" stroke="#444" stroke-width="1"/><path d="M569.8,111.6 l5,-2.6 l-1.3,2.6 l1.3,2.6 z" fill="#444"/><path d="M596.1,111.6 l-5,-2.6 l1.3,2.6 l-1.3,2.6 z" fill="#444"/>
<text x="558.2" y="85.6" class="s" font-size="17.7">300 nm</text>
<line x1="550.5" y1="90" x2="550.5" y2="160" stroke="#666" stroke-width="1"/>
<path d="M550.5,88.4 l-2.6,5 l2.6,-1.3 l2.6,1.3 z" fill="#222"/>
<path d="M550.5,162 l-2.6,-5 l2.6,1.3 l2.6,-1.3 z" fill="#222"/>
<line x1="544.2" y1="164.3" x2="586.9" y2="164.3" stroke="#999" stroke-width="1"/>
<text x="533" y="183" class="s" font-size="18">100 nm</text>
<text x="0.5" y="274.1" class="s" font-size="24">(c)</text>
<path d="M39.6,260.0 H319.2 V470.6 H39.6 Z" fill="none" stroke="#333" stroke-width="1.4"/>
<line x1="35.5" y1="470.6" x2="39.6" y2="470.6" stroke="#333" stroke-width="1.4"/>
<line x1="37.0" y1="273.1" x2="39.6" y2="273.1" stroke="#333" stroke-width="1.1"/>
<line x1="34.6" y1="295.2" x2="39.6" y2="295.2" stroke="#333" stroke-width="1.1"/>
<line x1="37.0" y1="317.2" x2="39.6" y2="317.2" stroke="#333" stroke-width="1.1"/>
<line x1="34.6" y1="339.3" x2="39.6" y2="339.3" stroke="#333" stroke-width="1.1"/>
<line x1="37.0" y1="361.3" x2="39.6" y2="361.3" stroke="#333" stroke-width="1.1"/>
<line x1="34.6" y1="383.4" x2="39.6" y2="383.4" stroke="#333" stroke-width="1.1"/>
<line x1="37.0" y1="405.4" x2="39.6" y2="405.4" stroke="#333" stroke-width="1.1"/>
<line x1="34.6" y1="427.5" x2="39.6" y2="427.5" stroke="#333" stroke-width="1.1"/>
<line x1="37.0" y1="449.5" x2="39.6" y2="449.5" stroke="#333" stroke-width="1.1"/>
<line x1="51.7" y1="470.6" x2="51.7" y2="475.1" stroke="#333" stroke-width="1.1"/>
<line x1="81.9" y1="470.6" x2="81.9" y2="473.1" stroke="#333" stroke-width="1.1"/>
<line x1="112.1" y1="470.6" x2="112.1" y2="475.1" stroke="#333" stroke-width="1.1"/>
<line x1="142.3" y1="470.6" x2="142.3" y2="473.1" stroke="#333" stroke-width="1.1"/>
<line x1="172.5" y1="470.6" x2="172.5" y2="475.1" stroke="#333" stroke-width="1.1"/>
<line x1="202.7" y1="470.6" x2="202.7" y2="473.1" stroke="#333" stroke-width="1.1"/>
<line x1="232.9" y1="470.6" x2="232.9" y2="475.1" stroke="#333" stroke-width="1.1"/>
<line x1="263.1" y1="470.6" x2="263.1" y2="473.1" stroke="#333" stroke-width="1.1"/>
<line x1="293.3" y1="470.6" x2="293.3" y2="475.1" stroke="#333" stroke-width="1.1"/>
<text x="51.7" y="495" class="s" font-size="22" text-anchor="middle">500</text>
<text x="112.1" y="495" class="s" font-size="22" text-anchor="middle">550</text>
<text x="172.5" y="495" class="s" font-size="22" text-anchor="middle">600</text>
<text x="232.9" y="495" class="s" font-size="22" text-anchor="middle">650</text>
<text x="293.3" y="495" class="s" font-size="22" text-anchor="middle">700</text>
<text x="180" y="520.7" class="s" font-size="25" text-anchor="middle">Wavelength (nm)</text>
<text transform="translate(22.5,368.3) rotate(-90)" class="s" font-size="25.5" text-anchor="middle">Scattering (a.u.)</text>
<text x="48" y="277.1" class="s" font-size="17.5">Experiment</text>
<polyline points="39.7,413.9 40.2,411.1 40.7,411.4 41.2,411.5 41.7,409.8 42.2,410.3 42.7,410.0 43.2,407.7 43.7,410.5 44.2,409.7 44.7,408.0 45.2,408.3 45.7,408.8 46.2,407.6 46.7,407.4 47.2,405.7 47.7,407.8 48.2,407.0 48.7,407.0 49.2,404.7 49.7,408.1 50.2,406.1 50.7,405.3 51.2,407.8 51.7,405.2 52.2,403.3 52.7,404.3 53.2,401.9 53.7,405.5 54.2,403.5 54.7,402.9 55.2,404.8 55.7,401.4 56.2,403.6 56.7,400.4 57.2,401.8 57.7,400.9 58.2,403.7 58.7,403.8 59.2,401.2 59.7,402.3 60.2,400.8 60.7,401.5 61.2,399.7 61.7,398.3 62.2,398.0 62.7,400.2 63.2,402.1 63.7,399.6 64.2,398.4 64.7,401.0 65.2,398.8 65.7,398.4 66.2,398.3 66.7,397.7 67.2,397.2 67.7,395.6 68.2,397.6 68.7,396.7 69.2,397.9 69.7,395.8 70.2,393.8 70.7,395.6 71.2,397.4 71.7,394.7 72.2,393.9 72.7,393.3 73.2,393.2 73.7,393.8 74.2,392.5 74.7,395.3 75.2,393.0 75.7,393.1 76.2,394.4 76.7,394.2 77.2,391.9 77.7,392.2 78.2,392.4 78.7,391.0 79.2,388.9 79.7,391.3 80.2,391.2 80.7,390.3 81.2,388.4 81.7,388.8 82.2,387.9 82.7,387.9 83.2,389.3 83.7,389.1 84.2,387.7 84.7,387.1 85.2,386.8 85.7,385.5 86.2,385.0 86.7,383.9 87.2,384.1 87.7,386.4 88.2,384.3 88.7,382.5 89.2,381.9 89.7,381.0 90.2,382.0 90.7,381.5 91.2,379.0 91.7,380.7 92.2,379.1 92.7,380.9 93.2,379.0 93.7,380.3 94.2,377.4 94.7,377.1 95.2,377.3 95.7,377.7 96.2,376.7 96.7,374.1 97.2,375.3 97.7,374.6 98.2,373.6 98.7,372.9 99.2,375.2 99.7,372.2 100.2,371.2 100.7,372.4 101.2,371.3 101.7,370.6 102.2,371.1 102.7,370.3 103.2,369.6 103.7,369.8 104.2,368.5 104.7,367.0 105.2,366.8 105.7,366.1 106.2,366.4 106.7,364.5 107.2,363.1 107.7,364.8 108.2,362.6 108.7,361.4 109.2,363.6 109.7,361.8 110.2,362.7 110.7,361.0 111.2,359.8 111.7,359.1 112.2,359.5 112.7,359.2 113.2,358.1 113.7,358.2 114.2,356.2 114.7,357.5 115.2,354.9 115.7,356.2 116.2,356.7 116.7,356.6 117.2,356.8 117.7,352.5 118.2,354.7 118.7,354.6 119.2,353.9 119.7,351.1 120.2,352.2 120.7,353.3 121.2,348.9 121.7,350.6 122.2,350.8 122.7,348.2 123.2,349.1 123.7,346.7 124.2,346.4 124.7,345.8 125.2,346.4 125.7,345.6 126.2,346.2 126.7,343.5 127.2,343.9 127.7,344.6 128.2,343.6 128.7,340.9 129.2,342.7 129.7,340.9 130.2,341.4 130.7,340.9 131.2,341.4 131.7,339.7 132.2,337.0 132.7,337.2 133.2,339.2 133.7,337.7 134.2,338.9 134.7,337.5 135.2,336.0 135.7,337.7 136.2,335.2 136.7,333.4 137.2,337.8 137.7,332.9 138.2,335.5 138.7,335.5 139.2,334.3 139.7,331.9 140.2,334.7 140.7,331.5 141.2,331.3 141.7,332.1 142.2,333.1 142.7,332.2 143.2,332.5 143.7,330.7 144.2,330.6 144.7,329.2 145.2,329.7 145.7,330.4 146.2,329.0 146.7,329.5 147.2,327.9 147.7,327.5 148.2,327.9 148.7,327.3 149.2,328.0 149.7,327.3 150.2,328.9 150.7,326.5 151.2,326.4 151.7,325.4 152.2,326.6 152.7,327.4 153.2,325.8 153.7,326.6 154.2,327.6 154.7,326.8 155.2,326.4 155.7,328.3 156.2,327.4 156.7,327.9 157.2,328.9 157.7,329.0 158.2,327.4 158.7,327.3 159.2,328.4 159.7,328.0 160.2,326.0 160.7,329.8 161.2,328.4 161.7,329.3 162.2,327.2 162.7,330.2 163.2,328.1 163.7,328.8 164.2,327.4 164.7,329.0 165.2,329.0 165.7,329.2 166.2,330.1 166.7,329.8 167.2,331.1 167.7,329.6 168.2,329.3 168.7,330.6 169.2,331.6 169.7,332.6 170.2,332.4 170.7,329.7 171.2,332.5 171.7,334.1 172.2,332.8 172.7,332.5 173.2,333.8 173.7,333.2 174.2,334.9 174.7,334.6 175.2,336.6 175.7,336.0 176.2,335.0 176.7,337.0 177.2,337.8 177.7,336.6 178.2,337.2 178.7,335.5 179.2,339.8 179.7,338.6 180.2,337.4 180.7,338.3 181.2,340.7 181.7,342.4 182.2,342.0 182.7,343.3 183.2,342.0 183.7,342.4 184.2,345.6 184.7,345.7 185.2,345.7 185.7,347.8 186.2,345.9 186.7,347.1 187.2,349.4 187.7,350.9 188.2,349.4 188.7,351.9 189.2,349.9 189.7,351.6 190.2,351.7 190.7,350.7 191.2,353.5 191.7,354.9 192.2,354.3 192.7,355.1 193.2,357.5 193.7,355.2 194.2,355.7 194.7,357.4 195.2,357.6 195.7,361.4 196.2,361.1 196.7,360.6 197.2,361.8 197.7,366.7 198.2,363.6 198.7,364.4 199.2,366.5 199.7,367.8 200.2,368.2 200.7,367.9 201.2,368.5 201.7,371.4 202.2,371.5 202.7,370.5 203.2,374.5 203.7,374.9 204.2,374.5 204.7,375.2 205.2,376.5 205.7,376.1 206.2,376.0 206.7,378.6 207.2,377.3 207.7,380.0 208.2,378.6 208.7,380.7 209.2,381.3 209.7,384.1 210.2,381.5 210.7,381.7 211.2,383.2 211.7,383.3 212.2,384.5 212.7,386.3 213.2,387.4 213.7,389.1 214.2,387.0 214.7,391.5 215.2,391.4 215.7,389.5 216.2,387.8 216.7,391.0 217.2,391.8 217.7,389.7 218.2,393.1 218.7,393.5 219.2,393.4 219.7,395.7 220.2,396.8 220.7,395.7 221.2,397.1 221.7,396.7 222.2,397.2 222.7,398.8 223.2,399.9 223.7,399.2 224.2,397.9 224.7,401.7 225.2,399.8 225.7,402.4 226.2,404.9 226.7,403.4 227.2,402.6 227.7,402.9 228.2,406.4 228.7,405.6 229.2,406.8 229.7,407.7 230.2,407.1 230.7,407.3 231.2,407.0 231.7,405.0 232.2,407.3 232.7,409.3 233.2,409.6 233.7,410.7 234.2,410.4 234.7,411.1 235.2,412.2 235.7,410.6 236.2,411.6 236.7,410.4 237.2,413.7 237.7,412.9 238.2,413.8 238.7,415.3 239.2,415.1 239.7,414.1 240.2,415.3 240.7,413.1 241.2,415.6 241.7,415.6 242.2,413.9 242.7,417.6 243.2,415.6 243.7,417.5 244.2,416.6 244.7,418.5 245.2,419.2 245.7,417.1 246.2,416.6 246.7,418.5 247.2,419.9 247.7,418.8 248.2,418.8 248.7,420.3 249.2,416.8 249.7,419.4 250.2,418.8 250.7,421.0 251.2,420.0 251.7,419.7 252.2,420.8 252.7,419.7 253.2,421.5 253.7,420.9 254.2,421.4 254.7,421.1 255.2,423.1 255.7,422.1 256.2,422.9 256.7,423.0 257.2,421.7 257.7,423.4 258.2,423.2 258.7,423.3 259.2,422.6 259.7,422.7 260.2,424.2 260.7,425.9 261.2,422.6 261.7,424.2 262.2,423.3 262.7,424.7 263.2,424.4 263.7,425.2 264.2,420.9 264.7,423.5 265.2,423.1 265.7,424.2 266.2,423.6 266.7,423.8 267.2,425.4 267.7,426.9 268.2,421.6 268.7,424.6 269.2,425.4 269.7,425.1 270.2,424.8 270.7,423.8 271.2,424.3 271.7,426.3 272.2,426.8 272.7,425.8 273.2,424.8 273.7,426.0 274.2,425.7 274.7,426.7 275.2,426.3 275.7,425.6 276.2,426.6 276.7,425.2 277.2,427.6 277.7,428.1 278.2,425.5 278.7,427.5 279.2,426.0 279.7,428.5 280.2,428.4 280.7,427.2 281.2,428.7 281.7,427.2 282.2,427.1 282.7,427.3 283.2,428.0 283.7,427.9 284.2,428.6 284.7,427.9 285.2,429.6 285.7,430.0 286.2,428.4 286.7,427.5 287.2,430.1 287.7,430.8 288.2,429.4 288.7,428.3 289.2,430.2 289.7,431.8 290.2,428.1 290.7,430.9 291.2,430.2 291.7,429.7 292.2,431.5 292.7,429.6 293.2,431.6 293.7,432.9 294.2,431.8 294.7,430.8 295.2,430.0 295.7,430.8 296.2,430.3 296.7,434.5 297.2,432.6 297.7,431.9 298.2,431.9 298.7,432.4 299.2,433.5 299.7,432.7 300.2,436.3 300.7,433.8 301.2,434.0 301.7,435.5 302.2,437.1 302.7,437.2 303.2,435.4 303.7,436.5 304.2,436.6 304.7,437.3 305.2,437.2 305.7,436.1 306.2,436.0 306.7,437.9 307.2,436.6 307.7,439.7 308.2,438.5 308.7,437.5 309.2,438.5 309.7,438.6 310.2,439.3 310.7,440.7 311.2,438.3 311.7,438.0 312.2,440.8 312.7,440.5 313.2,441.2 313.7,441.8 314.2,441.3 314.7,442.7 315.2,441.1 315.7,442.5 316.2,441.8 316.7,441.7 317.2,444.0 317.7,444.3 318.2,441.7 318.7,442.9 319.2,444.9" fill="none" stroke="#1a1aee" stroke-width="1.3" stroke-linejoin="round"/>
<rect x="202.3" y="261.3" width="115.3" height="90.0" fill="#fff" stroke="#999" stroke-width="1"/>
<line x1="202.3" y1="261.3" x2="202.3" y2="351.3" stroke="#666" stroke-width="1"/>
<line x1="202.3" y1="351.3" x2="317.6" y2="351.3" stroke="#666" stroke-width="1"/>
<line x1="207.1" y1="351.3" x2="207.1" y2="353.8" stroke="#666" stroke-width="0.8"/>
<line x1="219.1" y1="351.3" x2="219.1" y2="352.8" stroke="#666" stroke-width="0.8"/>
<line x1="231.2" y1="351.3" x2="231.2" y2="353.8" stroke="#666" stroke-width="0.8"/>
<line x1="243.2" y1="351.3" x2="243.2" y2="352.8" stroke="#666" stroke-width="0.8"/>
<line x1="255.2" y1="351.3" x2="255.2" y2="353.8" stroke="#666" stroke-width="0.8"/>
<line x1="267.2" y1="351.3" x2="267.2" y2="352.8" stroke="#666" stroke-width="0.8"/>
<line x1="279.3" y1="351.3" x2="279.3" y2="353.8" stroke="#666" stroke-width="0.8"/>
<line x1="291.3" y1="351.3" x2="291.3" y2="352.8" stroke="#666" stroke-width="0.8"/>
<line x1="303.3" y1="351.3" x2="303.3" y2="353.8" stroke="#666" stroke-width="0.8"/>
<line x1="315.3" y1="351.3" x2="315.3" y2="352.8" stroke="#666" stroke-width="0.8"/>
<line x1="200.3" y1="268.3" x2="202.3" y2="268.3" stroke="#666" stroke-width="0.8"/>
<line x1="200.3" y1="277.6" x2="202.3" y2="277.6" stroke="#666" stroke-width="0.8"/>
<line x1="200.3" y1="287.0" x2="202.3" y2="287.0" stroke="#666" stroke-width="0.8"/>
<line x1="200.3" y1="296.3" x2="202.3" y2="296.3" stroke="#666" stroke-width="0.8"/>
<line x1="200.3" y1="305.6" x2="202.3" y2="305.6" stroke="#666" stroke-width="0.8"/>
<line x1="200.3" y1="314.9" x2="202.3" y2="314.9" stroke="#666" stroke-width="0.8"/>
<line x1="200.3" y1="324.3" x2="202.3" y2="324.3" stroke="#666" stroke-width="0.8"/>
<line x1="200.3" y1="333.6" x2="202.3" y2="333.6" stroke="#666" stroke-width="0.8"/>
<line x1="200.3" y1="342.9" x2="202.3" y2="342.9" stroke="#666" stroke-width="0.8"/>
<text x="207.1" y="362.8" font-size="11" text-anchor="middle" fill="#222">500</text>
<text x="231.2" y="362.8" font-size="11" text-anchor="middle" fill="#222">550</text>
<text x="255.2" y="362.8" font-size="11" text-anchor="middle" fill="#222">600</text>
<text x="279.3" y="362.8" font-size="11" text-anchor="middle" fill="#222">650</text>
<text x="303.3" y="362.8" font-size="11" text-anchor="middle" fill="#222">700</text>
<text x="260.5" y="374.4" font-size="12.4" text-anchor="middle">Wavelength (nm)</text>
<text transform="translate(196.3,308) rotate(-90)" font-size="12.4" text-anchor="middle">Scattering (a.u.)</text>
<text x="205.3" y="271.8" font-size="11">Simulation</text>
<polyline points="202.5,331.9 203.0,331.8 203.5,331.8 204.0,331.8 204.5,331.7 205.0,331.7 205.5,331.6 206.0,331.6 206.5,331.5 207.0,331.4 207.5,331.3 208.0,331.2 208.5,331.1 209.0,331.0 209.5,330.9 210.0,330.7 210.5,330.6 211.0,330.4 211.5,330.1 212.0,329.9 212.5,329.6 213.0,329.2 213.5,328.9 214.0,328.5 214.5,328.0 215.0,327.6 215.5,327.1 216.0,326.6 216.5,326.0 217.0,325.5 217.5,324.9 218.0,324.3 218.5,323.7 219.0,323.0 219.5,322.3 220.0,321.6 220.5,320.9 221.0,320.2 221.5,319.4 222.0,318.6 222.5,317.9 223.0,317.1 223.5,316.3 224.0,315.4 224.5,314.6 225.0,313.7 225.5,312.8 226.0,311.9 226.5,311.1 227.0,310.2 227.5,309.4 228.0,308.6 228.5,307.8 229.0,307.1 229.5,306.3 230.0,305.6 230.5,304.9 231.0,304.2 231.5,303.5 232.0,302.8 232.5,302.2 233.0,301.5 233.5,300.9 234.0,300.2 234.5,299.6 235.0,299.0 235.5,298.4 236.0,297.8 236.5,297.2 237.0,296.7 237.5,296.1 238.0,295.6 238.5,295.1 239.0,294.6 239.5,294.1 240.0,293.6 240.5,293.1 241.0,292.6 241.5,292.1 242.0,291.7 242.5,291.3 243.0,290.8 243.5,290.4 244.0,289.9 244.5,289.5 245.0,289.1 245.5,288.8 246.0,288.4 246.5,288.1 247.0,287.8 247.5,287.5 248.0,287.3 248.5,287.0 249.0,286.8 249.5,286.6 250.0,286.5 250.5,286.4 251.0,286.3 251.5,286.2 252.0,286.2 252.5,286.2 253.0,286.3 253.5,286.3 254.0,286.4 254.5,286.6 255.0,286.7 255.5,286.9 256.0,287.1 256.5,287.3 257.0,287.6 257.5,287.9 258.0,288.2 258.5,288.5 259.0,288.9 259.5,289.3 260.0,289.6 260.5,290.0 261.0,290.4 261.5,290.7 262.0,291.1 262.5,291.5 263.0,291.9 263.5,292.3 264.0,292.7 264.5,293.1 265.0,293.6 265.5,294.0 266.0,294.4 266.5,294.9 267.0,295.3 267.5,295.8 268.0,296.3 268.5,296.7 269.0,297.2 269.5,297.6 270.0,298.1 270.5,298.6 271.0,299.0 271.5,299.5 272.0,300.0 272.5,300.5 273.0,301.0 273.5,301.5 274.0,302.0 274.5,302.5 275.0,303.0 275.5,303.5 276.0,304.1 276.5,304.6 277.0,305.1 277.5,305.6 278.0,306.1 278.5,306.6 279.0,307.1 279.5,307.6 280.0,308.1 280.5,308.6 281.0,309.1 281.5,309.6 282.0,310.2 282.5,310.7 283.0,311.2 283.5,311.7 284.0,312.2 284.5,312.7 285.0,313.2 285.5,313.7 286.0,314.2 286.5,314.7 287.0,315.1 287.5,315.6 288.0,316.1 288.5,316.5 289.0,317.0 289.5,317.5 290.0,318.0 290.5,318.4 291.0,318.9 291.5,319.3 292.0,319.8 292.5,320.2 293.0,320.6 293.5,321.0 294.0,321.4 294.5,321.7 295.0,322.1 295.5,322.4 296.0,322.7 296.5,323.0 297.0,323.2 297.5,323.5 298.0,323.7 298.5,324.0 299.0,324.2 299.5,324.4 300.0,324.6 300.5,324.8 301.0,325.1 301.5,325.3 302.0,325.5 302.5,325.6 303.0,325.8 303.5,326.0 304.0,326.2 304.5,326.3 305.0,326.5 305.5,326.6 306.0,326.8 306.5,326.9 307.0,327.1 307.5,327.2 308.0,327.4 308.5,327.6 309.0,327.7 309.5,327.9 310.0,328.1 310.5,328.3 311.0,328.5 311.5,328.6 312.0,328.8 312.5,329.0 313.0,329.2 313.5,329.4 314.0,329.7 314.5,329.9 315.0,330.2 315.5,330.4 316.0,330.7 316.5,331.1 317.0,331.4 317.5,331.7" fill="none" stroke="#1e1ef0" stroke-width="1.5"/>
<g clip-path="url(#cmclip)">
<rect x="125" y="385.3" width="63.7" height="61.7" fill="#1414f6"/>
<ellipse cx="156.9" cy="416.2" rx="24" ry="21" fill="url(#halo2)"/>
<ellipse cx="156.9" cy="416.2" rx="15.4" ry="13.9" fill="#48c8f8"/>
<ellipse cx="156.9" cy="416.2" rx="14.6" ry="13.3" fill="#6ee8f0"/>
<ellipse cx="156.9" cy="416.2" rx="13.4" ry="12.6" fill="none" stroke="#d4e050" stroke-width="1.25"/>
<ellipse cx="143.6" cy="416.2" rx="0.6" ry="4.5" fill="#f0a020" opacity="0.5"/>
<ellipse cx="170.2" cy="416.2" rx="0.6" ry="4.5" fill="#f0a020" opacity="0.5"/>
<ellipse cx="156.9" cy="416.2" rx="11.2" ry="13.6" fill="#78e8f8"/>
<ellipse cx="156.9" cy="416.2" rx="10.6" ry="13.0" fill="url(#inner2)"/>
</g>
<line x1="125" y1="385.6" x2="188.7" y2="385.6" stroke="#0a0a80" stroke-width="0.8"/>
<rect x="190.6" y="388.2" width="3.5" height="28.6" fill="url(#jet)"/>
<text x="195.4" y="393.6" font-size="10.5">6</text>
<text x="195.4" y="402.8" font-size="10.5">4</text>
<text x="195.4" y="412.3" font-size="10.5">2</text>
<text x="122.4" y="394.2" font-size="11.5" text-anchor="end">300</text>
<text x="122.4" y="421.1" font-size="11.5" text-anchor="end">0</text>
<text x="122.4" y="447.1" font-size="11.5" text-anchor="end">-300</text>
<text x="124.5" y="456.8" font-size="11.5" text-anchor="middle">0</text>
<text x="151.9" y="456.8" font-size="11.5" text-anchor="middle">300</text>
<text x="179.2" y="456.8" font-size="11.5" text-anchor="middle">600</text>
<text x="154.2" y="466.5" font-size="12.5" text-anchor="middle"><tspan font-style="italic">x</tspan> (nm)</text>
<text transform="translate(103.6,414.1) rotate(-90)" font-size="12.5" text-anchor="middle"><tspan font-style="italic">y</tspan> (nm)</text>
<text x="344" y="274.6" class="s" font-size="24">(d)</text>
<line x1="403.3" y1="261.2" x2="683.6" y2="261.2" stroke="#333" stroke-width="1.3"/>
<line x1="403.3" y1="261.2" x2="403.3" y2="472.6" stroke="#333" stroke-width="1.4"/>
<line x1="399.3" y1="472.6" x2="683.6" y2="472.6" stroke="#333" stroke-width="1.4"/>
<line x1="683.6" y1="261.2" x2="683.6" y2="472.6" stroke="#777" stroke-width="1.2"/>
<line x1="398.3" y1="276.8" x2="403.3" y2="276.8" stroke="#333" stroke-width="1.1"/>
<line x1="400.7" y1="296.4" x2="403.3" y2="296.4" stroke="#333" stroke-width="1.1"/>
<line x1="398.3" y1="316.0" x2="403.3" y2="316.0" stroke="#333" stroke-width="1.1"/>
<line x1="400.7" y1="335.7" x2="403.3" y2="335.7" stroke="#333" stroke-width="1.1"/>
<line x1="398.3" y1="355.3" x2="403.3" y2="355.3" stroke="#333" stroke-width="1.1"/>
<line x1="400.7" y1="374.9" x2="403.3" y2="374.9" stroke="#333" stroke-width="1.1"/>
<line x1="398.3" y1="394.6" x2="403.3" y2="394.6" stroke="#333" stroke-width="1.1"/>
<line x1="400.7" y1="414.2" x2="403.3" y2="414.2" stroke="#333" stroke-width="1.1"/>
<line x1="398.3" y1="433.9" x2="403.3" y2="433.9" stroke="#333" stroke-width="1.1"/>
<line x1="400.7" y1="453.5" x2="403.3" y2="453.5" stroke="#333" stroke-width="1.1"/>
<line x1="415.4" y1="472.6" x2="415.4" y2="477.1" stroke="#333" stroke-width="1.1"/>
<line x1="445.8" y1="472.6" x2="445.8" y2="475.1" stroke="#333" stroke-width="1.1"/>
<line x1="476.1" y1="472.6" x2="476.1" y2="477.1" stroke="#333" stroke-width="1.1"/>
<line x1="506.5" y1="472.6" x2="506.5" y2="475.1" stroke="#333" stroke-width="1.1"/>
<line x1="536.8" y1="472.6" x2="536.8" y2="477.1" stroke="#333" stroke-width="1.1"/>
<line x1="567.2" y1="472.6" x2="567.2" y2="475.1" stroke="#333" stroke-width="1.1"/>
<line x1="597.5" y1="472.6" x2="597.5" y2="477.1" stroke="#333" stroke-width="1.1"/>
<line x1="627.9" y1="472.6" x2="627.9" y2="475.1" stroke="#333" stroke-width="1.1"/>
<line x1="658.2" y1="472.6" x2="658.2" y2="477.1" stroke="#333" stroke-width="1.1"/>
<text x="415.4" y="496.1" class="s" font-size="22" text-anchor="middle">500</text>
<text x="476.1" y="496.1" class="s" font-size="22" text-anchor="middle">550</text>
<text x="536.8" y="496.1" class="s" font-size="22" text-anchor="middle">600</text>
<text x="597.5" y="496.1" class="s" font-size="22" text-anchor="middle">650</text>
<text x="658.2" y="496.1" class="s" font-size="22" text-anchor="middle">700</text>
<text x="544.4" y="522" class="s" font-size="25" text-anchor="middle">Wavelength (nm)</text>
<text transform="translate(387,370.7) rotate(-90)" class="s" font-size="25.5" text-anchor="middle">Scattering (a.u.)</text>
<polyline points="403.6,368.7 404.1,366.5 404.6,366.7 405.1,365.0 405.6,369.0 406.1,366.4 406.6,366.6 407.1,366.0 407.6,366.0 408.1,365.3 408.6,363.9 409.1,364.8 409.6,363.7 410.1,364.7 410.6,362.2 411.1,362.0 411.6,363.0 412.1,363.4 412.6,361.8 413.1,360.6 413.6,360.9 414.1,360.2 414.6,362.5 415.1,361.1 415.6,361.1 416.1,359.8 416.6,358.5 417.1,360.1 417.6,360.3 418.1,358.9 418.6,357.9 419.1,358.8 419.6,356.9 420.1,357.9 420.6,356.0 421.1,355.4 421.6,356.8 422.1,356.3 422.6,357.7 423.1,355.1 423.6,355.2 424.1,353.6 424.6,352.6 425.1,352.4 425.6,354.7 426.1,352.6 426.6,354.9 427.1,355.0 427.6,352.9 428.1,354.8 428.6,353.0 429.1,353.8 429.6,352.1 430.1,353.1 430.6,350.8 431.1,352.3 431.6,350.9 432.1,351.0 432.6,351.6 433.1,350.9 433.6,350.4 434.1,351.0 434.6,350.9 435.1,348.2 435.6,350.1 436.1,350.0 436.6,348.2 437.1,349.2 437.6,347.0 438.1,349.8 438.6,347.7 439.1,347.6 439.6,348.7 440.1,346.9 440.6,347.4 441.1,345.3 441.6,345.5 442.1,344.3 442.6,345.2 443.1,346.3 443.6,345.1 444.1,345.5 444.6,343.0 445.1,342.8 445.6,342.9 446.1,343.7 446.6,343.1 447.1,342.4 447.6,342.7 448.1,341.5 448.6,341.3 449.1,342.4 449.6,339.9 450.1,340.4 450.6,341.6 451.1,339.6 451.6,339.8 452.1,338.0 452.6,340.4 453.1,335.4 453.6,336.3 454.1,336.0 454.6,338.5 455.1,336.7 455.6,335.6 456.1,334.1 456.6,335.5 457.1,334.8 457.6,333.6 458.1,332.3 458.6,332.3 459.1,333.3 459.6,333.0 460.1,332.4 460.6,331.7 461.1,329.5 461.6,331.1 462.1,329.5 462.6,330.3 463.1,330.3 463.6,328.7 464.1,327.9 464.6,329.7 465.1,328.6 465.6,327.1 466.1,324.0 466.6,326.9 467.1,327.2 467.6,327.3 468.1,324.9 468.6,324.4 469.1,324.2 469.6,325.1 470.1,322.4 470.6,323.1 471.1,321.6 471.6,322.4 472.1,319.8 472.6,321.3 473.1,319.8 473.6,319.5 474.1,319.7 474.6,319.7 475.1,315.9 475.6,318.3 476.1,317.1 476.6,315.5 477.1,316.7 477.6,314.7 478.1,315.3 478.6,312.6 479.1,311.7 479.6,313.3 480.1,313.8 480.6,311.5 481.1,311.2 481.6,309.1 482.1,307.7 482.6,308.3 483.1,309.7 483.6,305.6 484.1,306.6 484.6,304.6 485.1,306.4 485.6,306.8 486.1,304.1 486.6,304.6 487.1,306.1 487.6,304.2 488.1,302.6 488.6,302.1 489.1,301.0 489.6,303.8 490.1,301.8 490.6,303.4 491.1,302.9 491.6,300.9 492.1,300.7 492.6,301.8 493.1,300.8 493.6,300.7 494.1,298.3 494.6,300.8 495.1,298.5 495.6,296.7 496.1,298.2 496.6,299.0 497.1,300.5 497.6,297.5 498.1,296.1 498.6,299.6 499.1,297.1 499.6,296.3 500.1,295.1 500.6,294.9 501.1,297.3 501.6,295.0 502.1,294.4 502.6,294.1 503.1,296.1 503.6,293.4 504.1,294.4 504.6,293.7 505.1,293.4 505.6,291.9 506.1,293.3 506.6,294.1 507.1,292.0 507.6,290.7 508.1,290.1 508.6,291.5 509.1,290.7 509.6,290.7 510.1,290.6 510.6,288.8 511.1,291.1 511.6,290.3 512.1,289.8 512.6,290.0 513.1,290.7 513.6,289.6 514.1,288.5 514.6,290.6 515.1,288.8 515.6,288.5 516.1,287.5 516.6,289.2 517.1,288.1 517.6,288.7 518.1,289.8 518.6,289.3 519.1,290.5 519.6,289.7 520.1,289.0 520.6,289.2 521.1,289.1 521.6,290.5 522.1,289.9 522.6,289.5 523.1,291.1 523.6,290.4 524.1,289.9 524.6,288.9 525.1,291.2 525.6,291.2 526.1,291.2 526.6,290.8 527.1,290.6 527.6,291.5 528.1,292.2 528.6,292.0 529.1,292.2 529.6,292.1 530.1,293.2 530.6,293.4 531.1,292.5 531.6,294.4 532.1,294.7 532.6,295.0 533.1,294.3 533.6,294.5 534.1,293.7 534.6,296.2 535.1,293.3 535.6,295.5 536.1,295.9 536.6,297.6 537.1,297.0 537.6,296.3 538.1,296.2 538.6,297.3 539.1,298.6 539.6,298.9 540.1,299.0 540.6,298.9 541.1,299.8 541.6,301.6 542.1,299.7 542.6,301.3 543.1,303.5 543.6,302.8 544.1,302.1 544.6,303.8 545.1,302.7 545.6,304.0 546.1,306.2 546.6,307.0 547.1,303.5 547.6,306.6 548.1,308.5 548.6,306.3 549.1,307.6 549.6,309.5 550.1,307.8 550.6,309.4 551.1,309.3 551.6,307.8 552.1,310.9 552.6,310.8 553.1,312.6 553.6,314.4 554.1,313.4 554.6,312.9 555.1,314.3 555.6,314.6 556.1,316.1 556.6,314.0 557.1,314.9 557.6,314.6 558.1,318.1 558.6,318.0 559.1,318.0 559.6,318.5 560.1,319.3 560.6,319.6 561.1,320.9 561.6,321.4 562.1,324.1 562.6,323.7 563.1,323.1 563.6,324.1 564.1,326.8 564.6,326.7 565.1,327.3 565.6,328.6 566.1,330.3 566.6,327.9 567.1,329.2 567.6,328.9 568.1,332.1 568.6,331.9 569.1,332.4 569.6,333.0 570.1,335.4 570.6,335.2 571.1,335.5 571.6,338.2 572.1,336.3 572.6,336.8 573.1,341.7 573.6,339.1 574.1,339.6 574.6,340.0 575.1,341.3 575.6,343.0 576.1,343.6 576.6,344.0 577.1,343.7 577.6,343.0 578.1,345.5 578.6,347.5 579.1,347.6 579.6,346.8 580.1,348.4 580.6,347.7 581.1,348.7 581.6,347.9 582.1,349.5 582.6,350.5 583.1,350.8 583.6,352.3 584.1,354.1 584.6,354.0 585.1,352.8 585.6,352.8 586.1,353.4 586.6,353.6 587.1,355.2 587.6,356.1 588.1,356.3 588.6,356.8 589.1,357.3 589.6,357.4 590.1,357.2 590.6,360.4 591.1,360.1 591.6,358.3 592.1,358.8 592.6,359.5 593.1,360.6 593.6,362.3 594.1,362.4 594.6,362.8 595.1,363.2 595.6,363.6 596.1,363.6 596.6,363.6 597.1,363.3 597.6,361.9 598.1,364.0 598.6,366.5 599.1,364.3 599.6,364.6 600.1,366.7 600.6,366.1 601.1,365.8 601.6,368.5 602.1,367.8 602.6,368.3 603.1,367.2 603.6,368.8 604.1,369.0 604.6,369.8 605.1,370.5 605.6,370.8 606.1,370.0 606.6,370.8 607.1,369.1 607.6,371.3 608.1,371.6 608.6,370.6 609.1,370.4 609.6,371.4 610.1,370.3 610.6,372.2 611.1,372.3 611.6,371.1 612.1,372.4 612.6,373.7 613.1,373.9 613.6,374.0 614.1,372.8 614.6,372.8 615.1,372.9 615.6,374.1 616.1,376.2 616.6,375.3 617.1,375.6 617.6,375.5 618.1,372.3 618.6,374.0 619.1,373.8 619.6,375.8 620.1,376.4 620.6,373.9 621.1,374.7 621.6,375.4 622.1,374.3 622.6,374.2 623.1,374.3 623.6,376.1 624.1,374.2 624.6,376.5 625.1,375.5 625.6,376.3 626.1,377.3 626.6,374.9 627.1,374.9 627.6,376.3 628.1,374.8 628.6,375.2 629.1,376.0 629.6,376.4 630.1,375.0 630.6,376.0 631.1,377.2 631.6,378.1 632.1,374.5 632.6,378.2 633.1,377.9 633.6,375.8 634.1,375.5 634.6,377.7 635.1,376.9 635.6,377.6 636.1,378.5 636.6,377.3 637.1,378.0 637.6,378.5 638.1,379.0 638.6,380.1 639.1,380.2 639.6,378.8 640.1,378.4 640.6,381.4 641.1,379.6 641.6,379.6 642.1,378.0 642.6,380.3 643.1,378.7 643.6,379.2 644.1,378.4 644.6,379.5 645.1,380.3 645.6,378.7 646.1,379.5 646.6,380.6 647.1,379.4 647.6,379.6 648.1,380.2 648.6,379.7 649.1,382.1 649.6,380.5 650.1,382.5 650.6,382.8 651.1,380.7 651.6,382.2 652.1,381.8 652.6,381.2 653.1,382.2 653.6,382.5 654.1,383.7 654.6,384.2 655.1,382.0 655.6,382.9 656.1,384.1 656.6,385.0 657.1,381.2 657.6,385.4 658.1,384.0 658.6,386.1 659.1,384.1 659.6,383.9 660.1,385.0 660.6,386.4 661.1,385.4 661.6,383.0 662.1,386.5 662.6,384.2 663.1,385.1 663.6,385.1 664.1,384.5 664.6,385.4 665.1,385.9 665.6,386.5 666.1,387.3 666.6,387.2 667.1,386.2 667.6,387.8 668.1,389.2 668.6,389.4 669.1,388.7 669.6,389.4 670.1,389.9 670.6,390.6 671.1,391.2 671.6,389.2 672.1,389.4 672.6,391.5 673.1,391.8 673.6,392.0 674.1,387.9 674.6,390.5 675.1,387.3 675.6,391.9 676.1,391.4 676.6,391.6 677.1,391.6 677.6,393.4 678.1,391.9 678.6,393.6 679.1,393.3 679.6,393.3 680.1,393.7 680.6,393.6 681.1,392.5 681.6,394.7 682.1,395.0 682.6,394.3 683.1,395.5 683.6,396.0" fill="none" stroke="#8014fa" stroke-width="1.6" stroke-linejoin="round"/>
<polyline points="403.3,412.5 403.8,413.0 404.3,412.6 404.8,412.1 405.3,412.7 405.8,411.8 406.3,411.8 406.8,412.0 407.3,411.9 407.8,411.7 408.3,412.6 408.8,410.8 409.3,411.0 409.8,410.0 410.3,410.8 410.8,411.0 411.3,410.8 411.8,409.5 412.3,409.5 412.8,410.3 413.3,409.2 413.8,409.7 414.3,408.3 414.8,409.5 415.3,409.1 415.8,408.6 416.3,407.6 416.8,407.8 417.3,407.7 417.8,407.6 418.3,407.2 418.8,406.9 419.3,406.9 419.8,407.4 420.3,405.2 420.8,405.3 421.3,405.0 421.8,405.3 422.3,404.5 422.8,405.6 423.3,405.2 423.8,404.7 424.3,404.3 424.8,404.6 425.3,404.4 425.8,404.3 426.3,403.4 426.8,404.0 427.3,402.5 427.8,404.0 428.3,401.2 428.8,402.4 429.3,401.9 429.8,402.8 430.3,401.2 430.8,403.0 431.3,400.8 431.8,402.7 432.3,401.5 432.8,401.0 433.3,401.1 433.8,401.9 434.3,400.9 434.8,398.7 435.3,400.6 435.8,399.7 436.3,398.4 436.8,399.5 437.3,398.1 437.8,398.7 438.3,398.4 438.8,397.7 439.3,398.2 439.8,396.9 440.3,397.3 440.8,396.6 441.3,396.5 441.8,397.5 442.3,396.1 442.8,395.1 443.3,395.4 443.8,394.7 444.3,394.9 444.8,394.7 445.3,394.3 445.8,394.1 446.3,393.4 446.8,393.7 447.3,393.7 447.8,392.4 448.3,392.5 448.8,392.2 449.3,392.6 449.8,392.2 450.3,390.8 450.8,391.0 451.3,389.7 451.8,389.7 452.3,389.9 452.8,389.9 453.3,389.8 453.8,388.7 454.3,387.7 454.8,388.3 455.3,387.6 455.8,387.6 456.3,387.0 456.8,387.0 457.3,386.5 457.8,386.2 458.3,385.0 458.8,385.4 459.3,384.1 459.8,384.0 460.3,384.6 460.8,383.2 461.3,381.8 461.8,382.9 462.3,382.1 462.8,381.6 463.3,380.5 463.8,380.1 464.3,379.2 464.8,378.4 465.3,379.1 465.8,377.4 466.3,376.8 466.8,376.2 467.3,377.0 467.8,375.9 468.3,374.5 468.8,374.2 469.3,373.9 469.8,373.6 470.3,371.5 470.8,372.4 471.3,371.1 471.8,370.3 472.3,369.8 472.8,369.9 473.3,369.9 473.8,368.3 474.3,367.9 474.8,366.4 475.3,366.6 475.8,366.2 476.3,364.2 476.8,364.1 477.3,364.3 477.8,362.1 478.3,362.3 478.8,362.3 479.3,360.3 479.8,360.5 480.3,360.2 480.8,360.1 481.3,358.3 481.8,359.1 482.3,358.1 482.8,358.1 483.3,357.6 483.8,356.6 484.3,356.2 484.8,354.4 485.3,354.2 485.8,353.9 486.3,353.9 486.8,354.2 487.3,352.1 487.8,352.6 488.3,351.5 488.8,351.0 489.3,352.4 489.8,351.2 490.3,351.7 490.8,351.0 491.3,349.4 491.8,348.5 492.3,350.4 492.8,348.6 493.3,347.8 493.8,348.5 494.3,347.9 494.8,347.0 495.3,346.9 495.8,346.9 496.3,346.5 496.8,346.6 497.3,345.6 497.8,345.3 498.3,345.5 498.8,345.1 499.3,345.2 499.8,344.1 500.3,343.9 500.8,343.0 501.3,344.4 501.8,342.4 502.3,343.1 502.8,342.1 503.3,342.6 503.8,342.6 504.3,341.0 504.8,341.6 505.3,340.4 505.8,342.1 506.3,340.8 506.8,339.9 507.3,340.2 507.8,341.2 508.3,341.1 508.8,340.8 509.3,339.4 509.8,339.6 510.3,340.5 510.8,338.9 511.3,339.0 511.8,338.5 512.3,338.2 512.8,339.4 513.3,338.9 513.8,338.7 514.3,338.6 514.8,338.8 515.3,338.9 515.8,337.9 516.3,337.6 516.8,337.1 517.3,338.2 517.8,337.2 518.3,336.5 518.8,337.2 519.3,337.3 519.8,337.7 520.3,337.7 520.8,336.7 521.3,336.6 521.8,336.8 522.3,336.3 522.8,336.9 523.3,337.3 523.8,337.0 524.3,336.1 524.8,336.3 525.3,337.9 525.8,336.5 526.3,337.6 526.8,337.6 527.3,337.1 527.8,336.8 528.3,337.6 528.8,337.0 529.3,337.5 529.8,337.8 530.3,337.4 530.8,337.8 531.3,337.9 531.8,337.5 532.3,338.2 532.8,338.1 533.3,337.5 533.8,338.6 534.3,338.8 534.8,338.8 535.3,338.1 535.8,340.0 536.3,340.1 536.8,340.3 537.3,340.3 537.8,339.6 538.3,340.6 538.8,340.2 539.3,342.3 539.8,340.9 540.3,341.9 540.8,340.8 541.3,341.3 541.8,342.0 542.3,343.0 542.8,343.2 543.3,343.3 543.8,342.3 544.3,344.4 544.8,343.5 545.3,345.4 545.8,345.8 546.3,345.6 546.8,346.0 547.3,345.0 547.8,347.7 548.3,346.7 548.8,347.5 549.3,346.8 549.8,347.7 550.3,347.5 550.8,348.5 551.3,349.1 551.8,349.7 552.3,350.9 552.8,350.8 553.3,351.2 553.8,351.6 554.3,353.3 554.8,352.3 555.3,353.9 555.8,352.5 556.3,353.7 556.8,355.0 557.3,355.2 557.8,357.7 558.3,357.9 558.8,356.0 559.3,356.8 559.8,357.9 560.3,359.6 560.8,359.7 561.3,359.7 561.8,359.2 562.3,360.1 562.8,359.5 563.3,360.7 563.8,362.4 564.3,363.2 564.8,362.4 565.3,363.8 565.8,365.3 566.3,365.0 566.8,365.3 567.3,366.4 567.8,367.0 568.3,367.3 568.8,367.6 569.3,368.2 569.8,369.2 570.3,369.4 570.8,371.1 571.3,371.5 571.8,372.2 572.3,373.4 572.8,373.8 573.3,374.3 573.8,374.3 574.3,374.5 574.8,376.6 575.3,375.4 575.8,376.1 576.3,376.5 576.8,377.8 577.3,378.5 577.8,379.5 578.3,379.4 578.8,379.1 579.3,380.9 579.8,381.9 580.3,381.9 580.8,382.4 581.3,383.4 581.8,384.5 582.3,384.1 582.8,383.9 583.3,384.9 583.8,385.7 584.3,385.2 584.8,387.3 585.3,386.9 585.8,388.2 586.3,388.5 586.8,388.7 587.3,390.4 587.8,389.5 588.3,390.0 588.8,391.0 589.3,391.8 589.8,391.8 590.3,391.7 590.8,393.1 591.3,393.6 591.8,394.9 592.3,394.0 592.8,394.7 593.3,394.7 593.8,394.6 594.3,395.9 594.8,396.8 595.3,396.1 595.8,396.8 596.3,396.9 596.8,398.8 597.3,398.1 597.8,399.2 598.3,398.7 598.8,399.7 599.3,399.7 599.8,399.0 600.3,400.9 600.8,401.5 601.3,400.3 601.8,401.9 602.3,402.1 602.8,402.1 603.3,402.9 603.8,402.3 604.3,403.9 604.8,404.8 605.3,403.7 605.8,404.7 606.3,405.9 606.8,405.5 607.3,405.4 607.8,405.4 608.3,406.4 608.8,406.5 609.3,407.2 609.8,406.2 610.3,408.0 610.8,407.4 611.3,408.2 611.8,407.7 612.3,407.6 612.8,408.2 613.3,408.2 613.8,408.8 614.3,409.7 614.8,410.2 615.3,409.9 615.8,409.7 616.3,410.0 616.8,410.8 617.3,411.4 617.8,410.7 618.3,411.1 618.8,410.9 619.3,411.7 619.8,412.4 620.3,410.3 620.8,412.4 621.3,412.1 621.8,411.2 622.3,413.0 622.8,413.0 623.3,413.4 623.8,412.6 624.3,414.9 624.8,413.8 625.3,413.7 625.8,415.0 626.3,414.7 626.8,415.0 627.3,415.3 627.8,413.6 628.3,416.0 628.8,414.9 629.3,415.4 629.8,416.0 630.3,415.1 630.8,415.9 631.3,416.3 631.8,415.9 632.3,416.4 632.8,415.3 633.3,415.6 633.8,415.8 634.3,416.8 634.8,419.0 635.3,417.1 635.8,417.0 636.3,417.1 636.8,417.9 637.3,417.9 637.8,416.9 638.3,418.4 638.8,417.9 639.3,418.6 639.8,417.0 640.3,417.4 640.8,418.9 641.3,417.6 641.8,419.0 642.3,419.2 642.8,419.2 643.3,419.5 643.8,419.6 644.3,419.8 644.8,419.5 645.3,419.8 645.8,421.8 646.3,420.8 646.8,420.7 647.3,420.7 647.8,420.2 648.3,420.9 648.8,420.8 649.3,421.6 649.8,420.7 650.3,419.9 650.8,421.2 651.3,422.1 651.8,423.3 652.3,422.6 652.8,421.5 653.3,422.1 653.8,421.8 654.3,422.4 654.8,422.1 655.3,421.9 655.8,423.3 656.3,423.3 656.8,423.2 657.3,423.6 657.8,424.8 658.3,423.8 658.8,423.7 659.3,424.6 659.8,423.2 660.3,424.8 660.8,424.0 661.3,424.2 661.8,424.9 662.3,425.9 662.8,424.6 663.3,425.8 663.8,425.6 664.3,424.7 664.8,426.3 665.3,425.4 665.8,425.1 666.3,425.7 666.8,425.9 667.3,426.9 667.8,426.2 668.3,427.7 668.8,427.1 669.3,426.7 669.8,426.8 670.3,427.6 670.8,426.5 671.3,426.6 671.8,427.5 672.3,428.6 672.8,428.5 673.3,428.6 673.8,428.6 674.3,427.6 674.8,428.9 675.3,428.2 675.8,430.0 676.3,429.7 676.8,429.8 677.3,430.3 677.8,430.4 678.3,430.5 678.8,430.8 679.3,430.4 679.8,430.2 680.3,431.4 680.8,432.2 681.3,432.2 681.8,431.6 682.3,432.3 682.8,431.9 683.3,432.6 683.8,432.2" fill="none" stroke="#fa1010" stroke-width="1.6" stroke-linejoin="round"/>
<polyline points="403.3,446.2 403.8,446.7 404.3,446.4 404.8,446.6 405.3,446.0 405.8,446.1 406.3,446.2 406.8,446.4 407.3,446.2 407.8,446.5 408.3,446.1 408.8,446.6 409.3,446.5 409.8,446.0 410.3,446.5 410.8,446.3 411.3,446.6 411.8,446.2 412.3,446.4 412.8,446.5 413.3,445.7 413.8,445.9 414.3,446.4 414.8,446.4 415.3,446.6 415.8,446.4 416.3,446.1 416.8,446.4 417.3,446.2 417.8,446.3 418.3,446.2 418.8,446.4 419.3,445.9 419.8,446.0 420.3,445.7 420.8,446.7 421.3,445.9 421.8,445.9 422.3,445.8 422.8,445.9 423.3,445.9 423.8,446.1 424.3,446.0 424.8,445.9 425.3,445.7 425.8,445.8 426.3,446.0 426.8,445.7 427.3,445.7 427.8,445.1 428.3,445.6 428.8,445.5 429.3,445.7 429.8,444.6 430.3,445.3 430.8,445.2 431.3,445.1 431.8,444.9 432.3,445.0 432.8,445.1 433.3,444.8 433.8,444.6 434.3,444.6 434.8,444.4 435.3,444.4 435.8,444.1 436.3,443.7 436.8,444.4 437.3,443.5 437.8,443.8 438.3,443.4 438.8,443.5 439.3,443.2 439.8,443.2 440.3,442.9 440.8,442.6 441.3,442.8 441.8,442.9 442.3,442.5 442.8,442.3 443.3,441.8 443.8,441.8 444.3,441.8 444.8,441.3 445.3,441.5 445.8,441.0 446.3,440.9 446.8,440.5 447.3,440.3 447.8,440.2 448.3,440.1 448.8,439.8 449.3,439.3 449.8,439.1 450.3,439.1 450.8,438.4 451.3,438.9 451.8,438.5 452.3,438.2 452.8,437.8 453.3,438.0 453.8,437.5 454.3,437.9 454.8,437.3 455.3,436.6 455.8,436.9 456.3,436.4 456.8,436.2 457.3,436.0 457.8,435.8 458.3,435.7 458.8,435.6 459.3,435.3 459.8,434.8 460.3,434.4 460.8,434.3 461.3,434.3 461.8,434.2 462.3,434.2 462.8,433.2 463.3,433.3 463.8,432.9 464.3,432.6 464.8,432.5 465.3,432.1 465.8,431.8 466.3,431.4 466.8,431.4 467.3,431.3 467.8,431.1 468.3,430.3 468.8,429.8 469.3,429.7 469.8,429.3 470.3,429.4 470.8,428.7 471.3,428.6 471.8,427.9 472.3,427.8 472.8,427.7 473.3,427.7 473.8,426.8 474.3,426.7 474.8,425.8 475.3,425.7 475.8,425.5 476.3,425.2 476.8,425.1 477.3,424.8 477.8,423.9 478.3,424.1 478.8,423.3 479.3,423.7 479.8,423.0 480.3,422.6 480.8,422.1 481.3,421.8 481.8,421.5 482.3,420.9 482.8,420.9 483.3,420.5 483.8,420.2 484.3,419.7 484.8,419.5 485.3,418.8 485.8,419.5 486.3,418.1 486.8,417.8 487.3,417.8 487.8,417.5 488.3,416.7 488.8,416.1 489.3,415.8 489.8,415.6 490.3,415.3 490.8,415.1 491.3,415.0 491.8,414.7 492.3,413.9 492.8,413.9 493.3,413.6 493.8,413.4 494.3,412.6 494.8,412.1 495.3,412.2 495.8,412.0 496.3,411.2 496.8,411.5 497.3,411.1 497.8,410.2 498.3,409.6 498.8,409.5 499.3,409.2 499.8,409.1 500.3,408.2 500.8,408.9 501.3,408.5 501.8,407.4 502.3,406.8 502.8,406.8 503.3,406.7 503.8,406.6 504.3,406.1 504.8,405.5 505.3,404.7 505.8,405.0 506.3,404.8 506.8,404.2 507.3,404.0 507.8,403.7 508.3,403.3 508.8,402.7 509.3,402.8 509.8,402.1 510.3,402.5 510.8,401.7 511.3,401.7 511.8,401.2 512.3,401.2 512.8,400.8 513.3,400.7 513.8,400.1 514.3,399.6 514.8,399.7 515.3,399.5 515.8,398.9 516.3,398.9 516.8,398.4 517.3,398.7 517.8,398.3 518.3,398.2 518.8,398.7 519.3,397.9 519.8,397.7 520.3,397.6 520.8,397.3 521.3,397.0 521.8,397.2 522.3,397.1 522.8,396.0 523.3,396.6 523.8,396.4 524.3,396.2 524.8,396.6 525.3,396.0 525.8,396.3 526.3,395.8 526.8,395.8 527.3,396.0 527.8,395.6 528.3,395.7 528.8,395.4 529.3,395.4 529.8,395.7 530.3,395.7 530.8,395.2 531.3,395.2 531.8,396.1 532.3,395.3 532.8,395.3 533.3,395.6 533.8,395.3 534.3,395.4 534.8,395.8 535.3,395.8 535.8,395.6 536.3,396.0 536.8,395.7 537.3,395.8 537.8,395.9 538.3,395.9 538.8,396.2 539.3,396.2 539.8,396.1 540.3,396.4 540.8,396.3 541.3,396.5 541.8,396.7 542.3,397.1 542.8,397.1 543.3,397.5 543.8,397.7 544.3,397.4 544.8,397.4 545.3,397.6 545.8,398.0 546.3,398.3 546.8,398.7 547.3,398.2 547.8,399.0 548.3,399.2 548.8,399.8 549.3,399.4 549.8,399.6 550.3,399.4 550.8,399.8 551.3,400.0 551.8,400.2 552.3,400.5 552.8,400.5 553.3,401.1 553.8,401.5 554.3,401.8 554.8,401.8 555.3,402.3 555.8,402.5 556.3,402.1 556.8,402.6 557.3,402.6 557.8,402.9 558.3,403.5 558.8,403.7 559.3,404.3 559.8,404.7 560.3,404.6 560.8,404.7 561.3,405.0 561.8,405.4 562.3,405.9 562.8,405.9 563.3,406.5 563.8,406.7 564.3,407.4 564.8,407.8 565.3,408.2 565.8,408.1 566.3,408.2 566.8,408.5 567.3,409.2 567.8,409.3 568.3,409.6 568.8,410.3 569.3,410.5 569.8,411.3 570.3,412.0 570.8,411.8 571.3,412.3 571.8,412.2 572.3,413.0 572.8,413.1 573.3,413.3 573.8,413.5 574.3,414.7 574.8,414.3 575.3,414.7 575.8,415.4 576.3,415.8 576.8,416.1 577.3,416.4 577.8,416.5 578.3,417.3 578.8,417.4 579.3,417.3 579.8,418.4 580.3,418.3 580.8,418.9 581.3,418.6 581.8,419.0 582.3,419.4 582.8,419.7 583.3,420.4 583.8,420.0 584.3,420.8 584.8,420.8 585.3,421.5 585.8,421.7 586.3,421.8 586.8,422.8 587.3,422.5 587.8,423.1 588.3,422.8 588.8,423.4 589.3,423.7 589.8,424.0 590.3,424.2 590.8,424.4 591.3,424.1 591.8,425.1 592.3,425.3 592.8,425.7 593.3,426.3 593.8,427.0 594.3,426.8 594.8,427.2 595.3,427.5 595.8,427.8 596.3,428.0 596.8,428.1 597.3,428.4 597.8,428.9 598.3,429.6 598.8,429.6 599.3,430.1 599.8,429.7 600.3,430.4 600.8,430.7 601.3,431.1 601.8,430.9 602.3,431.1 602.8,431.3 603.3,432.0 603.8,433.0 604.3,432.8 604.8,432.7 605.3,433.4 605.8,433.5 606.3,433.9 606.8,434.0 607.3,434.1 607.8,434.6 608.3,435.1 608.8,435.3 609.3,435.8 609.8,435.5 610.3,436.3 610.8,436.3 611.3,436.6 611.8,437.1 612.3,437.1 612.8,437.4 613.3,437.8 613.8,438.1 614.3,438.4 614.8,438.8 615.3,438.9 615.8,438.9 616.3,439.9 616.8,439.6 617.3,440.0 617.8,440.0 618.3,439.9 618.8,440.5 619.3,441.0 619.8,441.4 620.3,441.6 620.8,442.1 621.3,442.4 621.8,442.7 622.3,442.8 622.8,443.1 623.3,443.3 623.8,443.4 624.3,444.2 624.8,443.9 625.3,444.4 625.8,444.8 626.3,444.5 626.8,445.5 627.3,445.5 627.8,445.9 628.3,446.0 628.8,446.0 629.3,446.7 629.8,447.0 630.3,447.5 630.8,447.6 631.3,447.4 631.8,448.4 632.3,448.6 632.8,448.8 633.3,449.0 633.8,449.0 634.3,449.6 634.8,449.6 635.3,450.6 635.8,450.1 636.3,450.1 636.8,450.6 637.3,451.3 637.8,451.0 638.3,450.7 638.8,451.9 639.3,451.9 639.8,451.9 640.3,452.4 640.8,452.2 641.3,452.4 641.8,453.1 642.3,452.9 642.8,453.4 643.3,453.4 643.8,453.8 644.3,453.9 644.8,453.5 645.3,454.4 645.8,454.2 646.3,454.8 646.8,454.7 647.3,455.2 647.8,455.0 648.3,454.7 648.8,455.3 649.3,455.6 649.8,455.5 650.3,455.6 650.8,456.3 651.3,456.0 651.8,456.4 652.3,456.3 652.8,456.0 653.3,456.3 653.8,456.5 654.3,456.8 654.8,456.7 655.3,456.6 655.8,456.8 656.3,457.1 656.8,457.1 657.3,457.3 657.8,458.1 658.3,457.8 658.8,457.6 659.3,458.0 659.8,458.5 660.3,458.4 660.8,458.3 661.3,458.1 661.8,458.2 662.3,458.6 662.8,458.8 663.3,458.5 663.8,458.7 664.3,459.2 664.8,458.7 665.3,459.0 665.8,459.5 666.3,459.8 666.8,459.8 667.3,460.1 667.8,460.4 668.3,460.3 668.8,460.1 669.3,460.8 669.8,460.8 670.3,460.8 670.8,460.4 671.3,460.8 671.8,460.3 672.3,460.9 672.8,460.4 673.3,461.0 673.8,461.5 674.3,461.4 674.8,461.8 675.3,461.5 675.8,461.7 676.3,461.7 676.8,462.0 677.3,461.9 677.8,462.3 678.3,462.5 678.8,462.3 679.3,462.0 679.8,462.5 680.3,462.8 680.8,462.7 681.3,462.7 681.8,463.0 682.3,463.1 682.8,462.3 683.3,463.4 683.8,463.3" fill="none" stroke="#1414f5" stroke-width="1.6" stroke-linejoin="round"/>
<text x="612.5" y="367.1" font-size="15.7"><tspan font-style="italic">h</tspan>=100 nm</text>
<text x="613.4" y="404.4" font-size="15.7"><tspan font-style="italic">h</tspan>=130 nm</text>
<text x="614.3" y="437.0" font-size="15.7"><tspan font-style="italic">h</tspan>=160 nm</text>
</svg></body></html>
